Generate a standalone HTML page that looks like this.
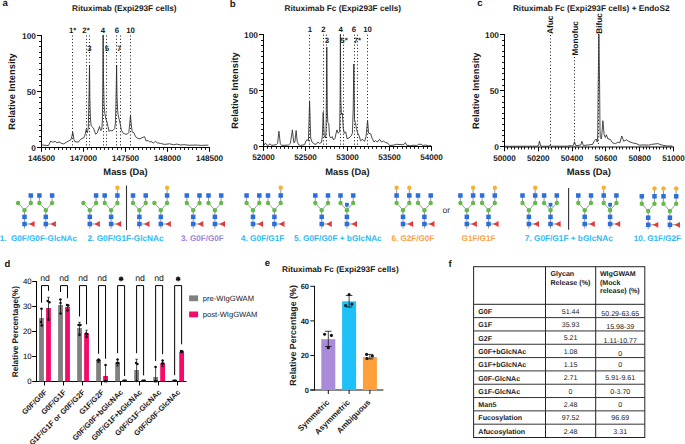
<!DOCTYPE html>
<html><head><meta charset="utf-8"><title>Figure</title>
<style>html,body{margin:0;padding:0;background:#fff;width:685px;height:444px;overflow:hidden}svg{display:block}</style>
</head><body>
<svg width="685" height="444" viewBox="0 0 685 444" text-rendering="geometricPrecision" font-family='"Liberation Sans", sans-serif'>
<rect width="685" height="444" fill="#fff"/>
<text x="2.5" y="6.1" font-size="9.6" font-weight="bold" text-anchor="start" fill="#1a1a1a" >a</text>
<text x="229.8" y="6.8" font-size="9.6" font-weight="bold" text-anchor="start" fill="#1a1a1a" >b</text>
<text x="477.2" y="6.4" font-size="9.6" font-weight="bold" text-anchor="start" fill="#1a1a1a" >c</text>
<text x="4.5" y="267.2" font-size="9.6" font-weight="bold" text-anchor="start" fill="#1a1a1a" >d</text>
<text x="264.8" y="266.4" font-size="9.6" font-weight="bold" text-anchor="start" fill="#1a1a1a" >e</text>
<text x="448.5" y="267" font-size="9.6" font-weight="bold" text-anchor="start" fill="#1a1a1a" >f</text>
<line x1="41.5" y1="35" x2="41.5" y2="148" stroke="#000" stroke-width="1.0" />
<line x1="37" y1="147.5" x2="41.5" y2="147.5" stroke="#000" stroke-width="1.0" />
<line x1="39" y1="141.5" x2="41.5" y2="141.5" stroke="#000" stroke-width="0.9" />
<line x1="39" y1="136.5" x2="41.5" y2="136.5" stroke="#000" stroke-width="0.9" />
<line x1="39" y1="130.5" x2="41.5" y2="130.5" stroke="#000" stroke-width="0.9" />
<line x1="39" y1="125.5" x2="41.5" y2="125.5" stroke="#000" stroke-width="0.9" />
<line x1="39" y1="119.5" x2="41.5" y2="119.5" stroke="#000" stroke-width="0.9" />
<line x1="39" y1="113.5" x2="41.5" y2="113.5" stroke="#000" stroke-width="0.9" />
<line x1="39" y1="108.5" x2="41.5" y2="108.5" stroke="#000" stroke-width="0.9" />
<line x1="39" y1="102.5" x2="41.5" y2="102.5" stroke="#000" stroke-width="0.9" />
<line x1="39" y1="97.5" x2="41.5" y2="97.5" stroke="#000" stroke-width="0.9" />
<line x1="37" y1="91.5" x2="41.5" y2="91.5" stroke="#000" stroke-width="1.0" />
<line x1="39" y1="85.5" x2="41.5" y2="85.5" stroke="#000" stroke-width="0.9" />
<line x1="39" y1="80.5" x2="41.5" y2="80.5" stroke="#000" stroke-width="0.9" />
<line x1="39" y1="74.5" x2="41.5" y2="74.5" stroke="#000" stroke-width="0.9" />
<line x1="39" y1="69.5" x2="41.5" y2="69.5" stroke="#000" stroke-width="0.9" />
<line x1="39" y1="63.5" x2="41.5" y2="63.5" stroke="#000" stroke-width="0.9" />
<line x1="39" y1="57.5" x2="41.5" y2="57.5" stroke="#000" stroke-width="0.9" />
<line x1="39" y1="52.5" x2="41.5" y2="52.5" stroke="#000" stroke-width="0.9" />
<line x1="39" y1="46.5" x2="41.5" y2="46.5" stroke="#000" stroke-width="0.9" />
<line x1="39" y1="41.5" x2="41.5" y2="41.5" stroke="#000" stroke-width="0.9" />
<line x1="37" y1="35.5" x2="41.5" y2="35.5" stroke="#000" stroke-width="1.0" />
<text x="36" y="150.5" font-size="8.4" font-weight="bold" text-anchor="end" fill="#1a1a1a" >0</text>
<text x="36" y="94.5" font-size="8.4" font-weight="bold" text-anchor="end" fill="#1a1a1a" >50</text>
<text x="36" y="38.5" font-size="8.4" font-weight="bold" text-anchor="end" fill="#1a1a1a" >100</text>
<line x1="41" y1="147.5" x2="210" y2="147.5" stroke="#000" stroke-width="1.0" />
<line x1="41.5" y1="147.5" x2="41.5" y2="151.8" stroke="#000" stroke-width="1.0" />
<text x="41.5" y="161.2" font-size="8.15" font-weight="bold" text-anchor="middle" fill="#1a1a1a" >146500</text>
<line x1="45.5" y1="147.5" x2="45.5" y2="149.9" stroke="#000" stroke-width="0.9" />
<line x1="49.5" y1="147.5" x2="49.5" y2="149.9" stroke="#000" stroke-width="0.9" />
<line x1="54.5" y1="147.5" x2="54.5" y2="149.9" stroke="#000" stroke-width="0.9" />
<line x1="58.5" y1="147.5" x2="58.5" y2="149.9" stroke="#000" stroke-width="0.9" />
<line x1="62.5" y1="147.5" x2="62.5" y2="149.9" stroke="#000" stroke-width="0.9" />
<line x1="66.5" y1="147.5" x2="66.5" y2="149.9" stroke="#000" stroke-width="0.9" />
<line x1="70.5" y1="147.5" x2="70.5" y2="149.9" stroke="#000" stroke-width="0.9" />
<line x1="75.5" y1="147.5" x2="75.5" y2="149.9" stroke="#000" stroke-width="0.9" />
<line x1="79.5" y1="147.5" x2="79.5" y2="149.9" stroke="#000" stroke-width="0.9" />
<line x1="83.5" y1="147.5" x2="83.5" y2="151.8" stroke="#000" stroke-width="1.0" />
<text x="83.5" y="161.2" font-size="8.15" font-weight="bold" text-anchor="middle" fill="#1a1a1a" >147000</text>
<line x1="87.5" y1="147.5" x2="87.5" y2="149.9" stroke="#000" stroke-width="0.9" />
<line x1="91.5" y1="147.5" x2="91.5" y2="149.9" stroke="#000" stroke-width="0.9" />
<line x1="96.5" y1="147.5" x2="96.5" y2="149.9" stroke="#000" stroke-width="0.9" />
<line x1="100.5" y1="147.5" x2="100.5" y2="149.9" stroke="#000" stroke-width="0.9" />
<line x1="104.5" y1="147.5" x2="104.5" y2="149.9" stroke="#000" stroke-width="0.9" />
<line x1="108.5" y1="147.5" x2="108.5" y2="149.9" stroke="#000" stroke-width="0.9" />
<line x1="112.5" y1="147.5" x2="112.5" y2="149.9" stroke="#000" stroke-width="0.9" />
<line x1="117.5" y1="147.5" x2="117.5" y2="149.9" stroke="#000" stroke-width="0.9" />
<line x1="121.5" y1="147.5" x2="121.5" y2="149.9" stroke="#000" stroke-width="0.9" />
<line x1="125.5" y1="147.5" x2="125.5" y2="151.8" stroke="#000" stroke-width="1.0" />
<text x="125.5" y="161.2" font-size="8.15" font-weight="bold" text-anchor="middle" fill="#1a1a1a" >147500</text>
<line x1="129.5" y1="147.5" x2="129.5" y2="149.9" stroke="#000" stroke-width="0.9" />
<line x1="133.5" y1="147.5" x2="133.5" y2="149.9" stroke="#000" stroke-width="0.9" />
<line x1="138.5" y1="147.5" x2="138.5" y2="149.9" stroke="#000" stroke-width="0.9" />
<line x1="142.5" y1="147.5" x2="142.5" y2="149.9" stroke="#000" stroke-width="0.9" />
<line x1="146.5" y1="147.5" x2="146.5" y2="149.9" stroke="#000" stroke-width="0.9" />
<line x1="150.5" y1="147.5" x2="150.5" y2="149.9" stroke="#000" stroke-width="0.9" />
<line x1="154.5" y1="147.5" x2="154.5" y2="149.9" stroke="#000" stroke-width="0.9" />
<line x1="159.5" y1="147.5" x2="159.5" y2="149.9" stroke="#000" stroke-width="0.9" />
<line x1="163.5" y1="147.5" x2="163.5" y2="149.9" stroke="#000" stroke-width="0.9" />
<line x1="167.5" y1="147.5" x2="167.5" y2="151.8" stroke="#000" stroke-width="1.0" />
<text x="167.5" y="161.2" font-size="8.15" font-weight="bold" text-anchor="middle" fill="#1a1a1a" >148000</text>
<line x1="171.5" y1="147.5" x2="171.5" y2="149.9" stroke="#000" stroke-width="0.9" />
<line x1="175.5" y1="147.5" x2="175.5" y2="149.9" stroke="#000" stroke-width="0.9" />
<line x1="180.5" y1="147.5" x2="180.5" y2="149.9" stroke="#000" stroke-width="0.9" />
<line x1="184.5" y1="147.5" x2="184.5" y2="149.9" stroke="#000" stroke-width="0.9" />
<line x1="188.5" y1="147.5" x2="188.5" y2="149.9" stroke="#000" stroke-width="0.9" />
<line x1="192.5" y1="147.5" x2="192.5" y2="149.9" stroke="#000" stroke-width="0.9" />
<line x1="196.5" y1="147.5" x2="196.5" y2="149.9" stroke="#000" stroke-width="0.9" />
<line x1="201.5" y1="147.5" x2="201.5" y2="149.9" stroke="#000" stroke-width="0.9" />
<line x1="205.5" y1="147.5" x2="205.5" y2="149.9" stroke="#000" stroke-width="0.9" />
<line x1="209.5" y1="147.5" x2="209.5" y2="151.8" stroke="#000" stroke-width="1.0" />
<text x="209.5" y="161.2" font-size="8.15" font-weight="bold" text-anchor="middle" fill="#1a1a1a" >148500</text>
<text transform="translate(15.4,91.5) rotate(-90)" font-size="9.3" font-weight="bold" text-anchor="middle" fill="#1a1a1a">Relative Intensity</text>
<text x="125.5" y="174.5" font-size="9.4" font-weight="bold" text-anchor="middle" fill="#1a1a1a" >Mass (Da)</text>
<text x="124.3" y="10.6" font-size="8.25" font-weight="bold" text-anchor="middle" fill="#1a1a1a" >Rituximab (Expi293F cells)</text>
<line x1="72.5" y1="35.5" x2="72.5" y2="147" stroke="#111" stroke-width="1.0" stroke-dasharray="1 2.3"/>
<line x1="86.5" y1="35.5" x2="86.5" y2="147" stroke="#111" stroke-width="1.0" stroke-dasharray="1 2.3"/>
<line x1="89.5" y1="35.5" x2="89.5" y2="147" stroke="#111" stroke-width="1.0" stroke-dasharray="1 2.3"/>
<line x1="103.5" y1="35.5" x2="103.5" y2="147" stroke="#111" stroke-width="1.0" stroke-dasharray="1 2.3"/>
<line x1="106.5" y1="35.5" x2="106.5" y2="147" stroke="#111" stroke-width="1.0" stroke-dasharray="1 2.3"/>
<line x1="116.5" y1="35.5" x2="116.5" y2="147" stroke="#111" stroke-width="1.0" stroke-dasharray="1 2.3"/>
<line x1="120.5" y1="35.5" x2="120.5" y2="147" stroke="#111" stroke-width="1.0" stroke-dasharray="1 2.3"/>
<line x1="130.5" y1="35.5" x2="130.5" y2="147" stroke="#111" stroke-width="1.0" stroke-dasharray="1 2.3"/>
<polyline points="41.5,145.2 42.3,145 48.4,145.6 50.7,141.1 52.4,142.2 55.2,141.4 56.9,142.8 59.1,141.9 61.4,143.4 63.6,143.9 67,141.9 71,139.6 72.2,135 72.7,132.1 73.3,135 73.9,139.6 74.9,141.7 78.3,142.2 80.5,139.4 83.9,137.7 85,134.9 86.2,129.3 87.3,132.7 88.3,128 89.1,90 89.5,65 89.9,100 90.5,120 91.2,125.9 93.5,128.2 95.7,134.3 97.3,132.7 99.5,126.5 100.6,130.4 101.8,129.8 102.4,120 102.8,80 103.1,35 103.4,75 104.1,105 104.6,111.3 105.7,118.6 106.8,121.4 108,126.5 109.1,131.5 110.2,130.2 111.9,131 113.6,129.8 114.7,128.7 115.5,122 116.2,90 116.6,65 117,95 117.6,110 118.1,114.6 119.8,122 121.5,130.4 123.2,133.2 124.8,133.8 126,134.3 127.7,133.8 128.8,132.7 129.9,122 130.5,115.2 131.1,123 132.2,132.1 133.9,132.7 135.5,136.6 137.8,138.3 140,138.9 142,137.7 144.6,136.7 146.1,141 148.2,140.5 149.7,142 151.2,141.6 153.3,143.1 155.3,141.4 157.4,142.8 160.4,143.4 164.5,144.4 169.6,143.8 173.7,144.8 176.8,144.1 180.9,145.1 183.9,144.6 188,145.2 197.2,145.1 201.3,145.4 208.4,145.1" fill="none" stroke="#2a2a2a" stroke-width="0.85" stroke-linejoin="round"/>
<text x="72.6" y="32.9" font-size="7.8" font-weight="bold" text-anchor="middle" fill="#1a1a1a" >1*</text>
<text x="86" y="32.9" font-size="7.8" font-weight="bold" text-anchor="middle" fill="#1a1a1a" >2*</text>
<text x="103" y="32.9" font-size="7.8" font-weight="bold" text-anchor="middle" fill="#1a1a1a" >4</text>
<text x="117" y="32.9" font-size="7.8" font-weight="bold" text-anchor="middle" fill="#1a1a1a" >6</text>
<text x="130.5" y="32.9" font-size="7.8" font-weight="bold" text-anchor="middle" fill="#1a1a1a" >10</text>
<text x="89.5" y="50.5" font-size="7.8" font-weight="bold" text-anchor="middle" fill="#1a1a1a" >3</text>
<text x="107" y="50.5" font-size="7.8" font-weight="bold" text-anchor="middle" fill="#1a1a1a" >5</text>
<text x="119.2" y="50.5" font-size="7.8" font-weight="bold" text-anchor="middle" fill="#1a1a1a" >7</text>
<line x1="263.5" y1="34" x2="263.5" y2="147" stroke="#000" stroke-width="1.0" />
<line x1="259" y1="146.5" x2="263.5" y2="146.5" stroke="#000" stroke-width="1.0" />
<line x1="261" y1="140.5" x2="263.5" y2="140.5" stroke="#000" stroke-width="0.9" />
<line x1="261" y1="135.5" x2="263.5" y2="135.5" stroke="#000" stroke-width="0.9" />
<line x1="261" y1="129.5" x2="263.5" y2="129.5" stroke="#000" stroke-width="0.9" />
<line x1="261" y1="124.5" x2="263.5" y2="124.5" stroke="#000" stroke-width="0.9" />
<line x1="261" y1="118.5" x2="263.5" y2="118.5" stroke="#000" stroke-width="0.9" />
<line x1="261" y1="112.5" x2="263.5" y2="112.5" stroke="#000" stroke-width="0.9" />
<line x1="261" y1="107.5" x2="263.5" y2="107.5" stroke="#000" stroke-width="0.9" />
<line x1="261" y1="101.5" x2="263.5" y2="101.5" stroke="#000" stroke-width="0.9" />
<line x1="261" y1="96.5" x2="263.5" y2="96.5" stroke="#000" stroke-width="0.9" />
<line x1="259" y1="90.5" x2="263.5" y2="90.5" stroke="#000" stroke-width="1.0" />
<line x1="261" y1="84.5" x2="263.5" y2="84.5" stroke="#000" stroke-width="0.9" />
<line x1="261" y1="79.5" x2="263.5" y2="79.5" stroke="#000" stroke-width="0.9" />
<line x1="261" y1="73.5" x2="263.5" y2="73.5" stroke="#000" stroke-width="0.9" />
<line x1="261" y1="68.5" x2="263.5" y2="68.5" stroke="#000" stroke-width="0.9" />
<line x1="261" y1="62.5" x2="263.5" y2="62.5" stroke="#000" stroke-width="0.9" />
<line x1="261" y1="56.5" x2="263.5" y2="56.5" stroke="#000" stroke-width="0.9" />
<line x1="261" y1="51.5" x2="263.5" y2="51.5" stroke="#000" stroke-width="0.9" />
<line x1="261" y1="45.5" x2="263.5" y2="45.5" stroke="#000" stroke-width="0.9" />
<line x1="261" y1="40.5" x2="263.5" y2="40.5" stroke="#000" stroke-width="0.9" />
<line x1="259" y1="34.5" x2="263.5" y2="34.5" stroke="#000" stroke-width="1.0" />
<text x="258" y="149.5" font-size="8.4" font-weight="bold" text-anchor="end" fill="#1a1a1a" >0</text>
<text x="258" y="93.5" font-size="8.4" font-weight="bold" text-anchor="end" fill="#1a1a1a" >50</text>
<text x="258" y="37.5" font-size="8.4" font-weight="bold" text-anchor="end" fill="#1a1a1a" >100</text>
<line x1="263" y1="146.5" x2="432" y2="146.5" stroke="#000" stroke-width="1.0" />
<line x1="263.5" y1="146.5" x2="263.5" y2="150.8" stroke="#000" stroke-width="1.0" />
<text x="263.5" y="160.2" font-size="8.15" font-weight="bold" text-anchor="middle" fill="#1a1a1a" >52000</text>
<line x1="267.5" y1="146.5" x2="267.5" y2="148.9" stroke="#000" stroke-width="0.9" />
<line x1="271.5" y1="146.5" x2="271.5" y2="148.9" stroke="#000" stroke-width="0.9" />
<line x1="276.5" y1="146.5" x2="276.5" y2="148.9" stroke="#000" stroke-width="0.9" />
<line x1="280.5" y1="146.5" x2="280.5" y2="148.9" stroke="#000" stroke-width="0.9" />
<line x1="284.5" y1="146.5" x2="284.5" y2="148.9" stroke="#000" stroke-width="0.9" />
<line x1="288.5" y1="146.5" x2="288.5" y2="148.9" stroke="#000" stroke-width="0.9" />
<line x1="292.5" y1="146.5" x2="292.5" y2="148.9" stroke="#000" stroke-width="0.9" />
<line x1="297.5" y1="146.5" x2="297.5" y2="148.9" stroke="#000" stroke-width="0.9" />
<line x1="301.5" y1="146.5" x2="301.5" y2="148.9" stroke="#000" stroke-width="0.9" />
<line x1="305.5" y1="146.5" x2="305.5" y2="150.8" stroke="#000" stroke-width="1.0" />
<text x="305.5" y="160.2" font-size="8.15" font-weight="bold" text-anchor="middle" fill="#1a1a1a" >52500</text>
<line x1="309.5" y1="146.5" x2="309.5" y2="148.9" stroke="#000" stroke-width="0.9" />
<line x1="313.5" y1="146.5" x2="313.5" y2="148.9" stroke="#000" stroke-width="0.9" />
<line x1="318.5" y1="146.5" x2="318.5" y2="148.9" stroke="#000" stroke-width="0.9" />
<line x1="322.5" y1="146.5" x2="322.5" y2="148.9" stroke="#000" stroke-width="0.9" />
<line x1="326.5" y1="146.5" x2="326.5" y2="148.9" stroke="#000" stroke-width="0.9" />
<line x1="330.5" y1="146.5" x2="330.5" y2="148.9" stroke="#000" stroke-width="0.9" />
<line x1="334.5" y1="146.5" x2="334.5" y2="148.9" stroke="#000" stroke-width="0.9" />
<line x1="339.5" y1="146.5" x2="339.5" y2="148.9" stroke="#000" stroke-width="0.9" />
<line x1="343.5" y1="146.5" x2="343.5" y2="148.9" stroke="#000" stroke-width="0.9" />
<line x1="347.5" y1="146.5" x2="347.5" y2="150.8" stroke="#000" stroke-width="1.0" />
<text x="347.5" y="160.2" font-size="8.15" font-weight="bold" text-anchor="middle" fill="#1a1a1a" >53000</text>
<line x1="351.5" y1="146.5" x2="351.5" y2="148.9" stroke="#000" stroke-width="0.9" />
<line x1="355.5" y1="146.5" x2="355.5" y2="148.9" stroke="#000" stroke-width="0.9" />
<line x1="360.5" y1="146.5" x2="360.5" y2="148.9" stroke="#000" stroke-width="0.9" />
<line x1="364.5" y1="146.5" x2="364.5" y2="148.9" stroke="#000" stroke-width="0.9" />
<line x1="368.5" y1="146.5" x2="368.5" y2="148.9" stroke="#000" stroke-width="0.9" />
<line x1="372.5" y1="146.5" x2="372.5" y2="148.9" stroke="#000" stroke-width="0.9" />
<line x1="376.5" y1="146.5" x2="376.5" y2="148.9" stroke="#000" stroke-width="0.9" />
<line x1="381.5" y1="146.5" x2="381.5" y2="148.9" stroke="#000" stroke-width="0.9" />
<line x1="385.5" y1="146.5" x2="385.5" y2="148.9" stroke="#000" stroke-width="0.9" />
<line x1="389.5" y1="146.5" x2="389.5" y2="150.8" stroke="#000" stroke-width="1.0" />
<text x="389.5" y="160.2" font-size="8.15" font-weight="bold" text-anchor="middle" fill="#1a1a1a" >53500</text>
<line x1="393.5" y1="146.5" x2="393.5" y2="148.9" stroke="#000" stroke-width="0.9" />
<line x1="397.5" y1="146.5" x2="397.5" y2="148.9" stroke="#000" stroke-width="0.9" />
<line x1="402.5" y1="146.5" x2="402.5" y2="148.9" stroke="#000" stroke-width="0.9" />
<line x1="406.5" y1="146.5" x2="406.5" y2="148.9" stroke="#000" stroke-width="0.9" />
<line x1="410.5" y1="146.5" x2="410.5" y2="148.9" stroke="#000" stroke-width="0.9" />
<line x1="414.5" y1="146.5" x2="414.5" y2="148.9" stroke="#000" stroke-width="0.9" />
<line x1="418.5" y1="146.5" x2="418.5" y2="148.9" stroke="#000" stroke-width="0.9" />
<line x1="423.5" y1="146.5" x2="423.5" y2="148.9" stroke="#000" stroke-width="0.9" />
<line x1="427.5" y1="146.5" x2="427.5" y2="148.9" stroke="#000" stroke-width="0.9" />
<line x1="431.5" y1="146.5" x2="431.5" y2="150.8" stroke="#000" stroke-width="1.0" />
<text x="431.5" y="160.2" font-size="8.15" font-weight="bold" text-anchor="middle" fill="#1a1a1a" >54000</text>
<text transform="translate(237.9,90.5) rotate(-90)" font-size="9.3" font-weight="bold" text-anchor="middle" fill="#1a1a1a">Relative Intensity</text>
<text x="347.4" y="174.5" font-size="9.4" font-weight="bold" text-anchor="middle" fill="#1a1a1a" >Mass (Da)</text>
<text x="342.8" y="10.6" font-size="8.25" font-weight="bold" text-anchor="middle" fill="#1a1a1a" >Rituximab Fc (Expi293F cells)</text>
<line x1="309.5" y1="34.7" x2="309.5" y2="146" stroke="#111" stroke-width="1.0" stroke-dasharray="1 2.3"/>
<line x1="323.5" y1="34.7" x2="323.5" y2="146" stroke="#111" stroke-width="1.0" stroke-dasharray="1 2.3"/>
<line x1="326.5" y1="34.7" x2="326.5" y2="146" stroke="#111" stroke-width="1.0" stroke-dasharray="1 2.3"/>
<line x1="340.5" y1="34.7" x2="340.5" y2="146" stroke="#111" stroke-width="1.0" stroke-dasharray="1 2.3"/>
<line x1="343.5" y1="34.7" x2="343.5" y2="146" stroke="#111" stroke-width="1.0" stroke-dasharray="1 2.3"/>
<line x1="354.5" y1="34.7" x2="354.5" y2="146" stroke="#111" stroke-width="1.0" stroke-dasharray="1 2.3"/>
<line x1="357.5" y1="34.7" x2="357.5" y2="146" stroke="#111" stroke-width="1.0" stroke-dasharray="1 2.3"/>
<line x1="367.5" y1="34.7" x2="367.5" y2="146" stroke="#111" stroke-width="1.0" stroke-dasharray="1 2.3"/>
<polyline points="263.5,145.5 264,145.4 265.4,143 266.8,145.1 268.1,145.4 270.1,143.8 271.5,145.4 276.2,144.7 277.6,143.4 278.9,131.2 280.3,143.4 281.6,145.4 288.4,145.1 290.4,143.4 292.4,129.9 293.8,142.7 294.9,142 296.1,130.5 297.2,141.4 298.5,144.7 300.5,145.4 304.6,144.7 306,140.7 307.3,139.7 308.4,141.1 309.6,101.5 310.7,138 312,142 314.1,144 316.1,144.3 318.1,142 319.5,143.4 321.5,142.4 322.4,135.3 323.2,112.3 324.2,136 325.5,138 326.1,130 326.8,47 327.3,110 327.8,122.4 328.8,123.8 329.5,136 330.8,138 332.2,136.6 333.5,140 334.9,138.6 336.9,129.9 338.2,133.2 339.6,131.9 340.1,100 340.4,34.2 340.8,100 341.4,114.3 342.3,113 343.2,127.8 344.3,133.2 345.7,131.9 347,138.6 349,138 351.1,136 352.4,133.2 353.2,110 353.8,64 354.3,100 354.5,119.7 355.4,122.4 356.5,129.2 357.8,133.2 359.2,136 360.5,140.7 362.6,139.3 364.6,141.4 366,136.6 367.6,120.4 368.6,133.2 370.7,133.9 372,138 374,142 375.4,140.7 377.4,142 379.5,139.3 381.5,142 383.5,141.1 385.7,142.6 387.9,143.2 389.6,145.5 393.1,145.2 396.6,144.3 401,144.6 403.6,144.8 405.4,142.6 406.7,145.2 410.6,145.8 413.7,145.2 416.8,145.6 418.5,144.3 421.2,144.3 422.9,145.5 425.5,145 428.2,145.8 431.2,145.5" fill="none" stroke="#2a2a2a" stroke-width="0.85" stroke-linejoin="round"/>
<text x="309.8" y="32.4" font-size="7.8" font-weight="bold" text-anchor="middle" fill="#1a1a1a" >1</text>
<text x="323.4" y="32.4" font-size="7.8" font-weight="bold" text-anchor="middle" fill="#1a1a1a" >2</text>
<text x="340.7" y="32.4" font-size="7.8" font-weight="bold" text-anchor="middle" fill="#1a1a1a" >4</text>
<text x="354" y="32.4" font-size="7.8" font-weight="bold" text-anchor="middle" fill="#1a1a1a" >6</text>
<text x="367.6" y="32.4" font-size="7.8" font-weight="bold" text-anchor="middle" fill="#1a1a1a" >10</text>
<text x="327" y="43.4" font-size="7.8" font-weight="bold" text-anchor="middle" fill="#1a1a1a" >3</text>
<text x="344" y="43.4" font-size="7.8" font-weight="bold" text-anchor="middle" fill="#1a1a1a" >5*</text>
<text x="357.4" y="43.4" font-size="7.8" font-weight="bold" text-anchor="middle" fill="#1a1a1a" >7*</text>
<line x1="504.5" y1="34" x2="504.5" y2="147.5" stroke="#000" stroke-width="1.0" />
<line x1="500" y1="146.5" x2="504.5" y2="146.5" stroke="#000" stroke-width="1.0" />
<line x1="502" y1="141.5" x2="504.5" y2="141.5" stroke="#000" stroke-width="0.9" />
<line x1="502" y1="135.5" x2="504.5" y2="135.5" stroke="#000" stroke-width="0.9" />
<line x1="502" y1="130.5" x2="504.5" y2="130.5" stroke="#000" stroke-width="0.9" />
<line x1="502" y1="124.5" x2="504.5" y2="124.5" stroke="#000" stroke-width="0.9" />
<line x1="502" y1="118.5" x2="504.5" y2="118.5" stroke="#000" stroke-width="0.9" />
<line x1="502" y1="113.5" x2="504.5" y2="113.5" stroke="#000" stroke-width="0.9" />
<line x1="502" y1="107.5" x2="504.5" y2="107.5" stroke="#000" stroke-width="0.9" />
<line x1="502" y1="102.5" x2="504.5" y2="102.5" stroke="#000" stroke-width="0.9" />
<line x1="502" y1="96.5" x2="504.5" y2="96.5" stroke="#000" stroke-width="0.9" />
<line x1="500" y1="90.5" x2="504.5" y2="90.5" stroke="#000" stroke-width="1.0" />
<line x1="502" y1="85.5" x2="504.5" y2="85.5" stroke="#000" stroke-width="0.9" />
<line x1="502" y1="79.5" x2="504.5" y2="79.5" stroke="#000" stroke-width="0.9" />
<line x1="502" y1="73.5" x2="504.5" y2="73.5" stroke="#000" stroke-width="0.9" />
<line x1="502" y1="68.5" x2="504.5" y2="68.5" stroke="#000" stroke-width="0.9" />
<line x1="502" y1="62.5" x2="504.5" y2="62.5" stroke="#000" stroke-width="0.9" />
<line x1="502" y1="56.5" x2="504.5" y2="56.5" stroke="#000" stroke-width="0.9" />
<line x1="502" y1="51.5" x2="504.5" y2="51.5" stroke="#000" stroke-width="0.9" />
<line x1="502" y1="45.5" x2="504.5" y2="45.5" stroke="#000" stroke-width="0.9" />
<line x1="502" y1="40.5" x2="504.5" y2="40.5" stroke="#000" stroke-width="0.9" />
<line x1="500" y1="34.5" x2="504.5" y2="34.5" stroke="#000" stroke-width="1.0" />
<text x="499" y="150" font-size="8.4" font-weight="bold" text-anchor="end" fill="#1a1a1a" >0</text>
<text x="499" y="93.75" font-size="8.4" font-weight="bold" text-anchor="end" fill="#1a1a1a" >50</text>
<text x="499" y="37.5" font-size="8.4" font-weight="bold" text-anchor="end" fill="#1a1a1a" >100</text>
<line x1="504" y1="147" x2="674" y2="147" stroke="#000" stroke-width="1.0" />
<line x1="504.5" y1="147" x2="504.5" y2="151.3" stroke="#000" stroke-width="1.0" />
<text x="504.5" y="160.7" font-size="8.15" font-weight="bold" text-anchor="middle" fill="#1a1a1a" >50000</text>
<line x1="507.5" y1="147" x2="507.5" y2="149.4" stroke="#000" stroke-width="0.9" />
<line x1="511.5" y1="147" x2="511.5" y2="149.4" stroke="#000" stroke-width="0.9" />
<line x1="514.5" y1="147" x2="514.5" y2="149.4" stroke="#000" stroke-width="0.9" />
<line x1="518.5" y1="147" x2="518.5" y2="149.4" stroke="#000" stroke-width="0.9" />
<line x1="521.5" y1="147" x2="521.5" y2="149.4" stroke="#000" stroke-width="0.9" />
<line x1="524.5" y1="147" x2="524.5" y2="149.4" stroke="#000" stroke-width="0.9" />
<line x1="528.5" y1="147" x2="528.5" y2="149.4" stroke="#000" stroke-width="0.9" />
<line x1="531.5" y1="147" x2="531.5" y2="149.4" stroke="#000" stroke-width="0.9" />
<line x1="534.5" y1="147" x2="534.5" y2="149.4" stroke="#000" stroke-width="0.9" />
<line x1="538.5" y1="147" x2="538.5" y2="151.3" stroke="#000" stroke-width="1.0" />
<text x="538.3" y="160.7" font-size="8.15" font-weight="bold" text-anchor="middle" fill="#1a1a1a" >50200</text>
<line x1="541.5" y1="147" x2="541.5" y2="149.4" stroke="#000" stroke-width="0.9" />
<line x1="545.5" y1="147" x2="545.5" y2="149.4" stroke="#000" stroke-width="0.9" />
<line x1="548.5" y1="147" x2="548.5" y2="149.4" stroke="#000" stroke-width="0.9" />
<line x1="551.5" y1="147" x2="551.5" y2="149.4" stroke="#000" stroke-width="0.9" />
<line x1="555.5" y1="147" x2="555.5" y2="149.4" stroke="#000" stroke-width="0.9" />
<line x1="558.5" y1="147" x2="558.5" y2="149.4" stroke="#000" stroke-width="0.9" />
<line x1="561.5" y1="147" x2="561.5" y2="149.4" stroke="#000" stroke-width="0.9" />
<line x1="565.5" y1="147" x2="565.5" y2="149.4" stroke="#000" stroke-width="0.9" />
<line x1="568.5" y1="147" x2="568.5" y2="149.4" stroke="#000" stroke-width="0.9" />
<line x1="572.5" y1="147" x2="572.5" y2="151.3" stroke="#000" stroke-width="1.0" />
<text x="572.1" y="160.7" font-size="8.15" font-weight="bold" text-anchor="middle" fill="#1a1a1a" >50400</text>
<line x1="575.5" y1="147" x2="575.5" y2="149.4" stroke="#000" stroke-width="0.9" />
<line x1="578.5" y1="147" x2="578.5" y2="149.4" stroke="#000" stroke-width="0.9" />
<line x1="582.5" y1="147" x2="582.5" y2="149.4" stroke="#000" stroke-width="0.9" />
<line x1="585.5" y1="147" x2="585.5" y2="149.4" stroke="#000" stroke-width="0.9" />
<line x1="588.5" y1="147" x2="588.5" y2="149.4" stroke="#000" stroke-width="0.9" />
<line x1="592.5" y1="147" x2="592.5" y2="149.4" stroke="#000" stroke-width="0.9" />
<line x1="595.5" y1="147" x2="595.5" y2="149.4" stroke="#000" stroke-width="0.9" />
<line x1="599.5" y1="147" x2="599.5" y2="149.4" stroke="#000" stroke-width="0.9" />
<line x1="602.5" y1="147" x2="602.5" y2="149.4" stroke="#000" stroke-width="0.9" />
<line x1="605.5" y1="147" x2="605.5" y2="151.3" stroke="#000" stroke-width="1.0" />
<text x="605.9" y="160.7" font-size="8.15" font-weight="bold" text-anchor="middle" fill="#1a1a1a" >50600</text>
<line x1="609.5" y1="147" x2="609.5" y2="149.4" stroke="#000" stroke-width="0.9" />
<line x1="612.5" y1="147" x2="612.5" y2="149.4" stroke="#000" stroke-width="0.9" />
<line x1="616.5" y1="147" x2="616.5" y2="149.4" stroke="#000" stroke-width="0.9" />
<line x1="619.5" y1="147" x2="619.5" y2="149.4" stroke="#000" stroke-width="0.9" />
<line x1="622.5" y1="147" x2="622.5" y2="149.4" stroke="#000" stroke-width="0.9" />
<line x1="626.5" y1="147" x2="626.5" y2="149.4" stroke="#000" stroke-width="0.9" />
<line x1="629.5" y1="147" x2="629.5" y2="149.4" stroke="#000" stroke-width="0.9" />
<line x1="632.5" y1="147" x2="632.5" y2="149.4" stroke="#000" stroke-width="0.9" />
<line x1="636.5" y1="147" x2="636.5" y2="149.4" stroke="#000" stroke-width="0.9" />
<line x1="639.5" y1="147" x2="639.5" y2="151.3" stroke="#000" stroke-width="1.0" />
<text x="639.7" y="160.7" font-size="8.15" font-weight="bold" text-anchor="middle" fill="#1a1a1a" >50800</text>
<line x1="643.5" y1="147" x2="643.5" y2="149.4" stroke="#000" stroke-width="0.9" />
<line x1="646.5" y1="147" x2="646.5" y2="149.4" stroke="#000" stroke-width="0.9" />
<line x1="649.5" y1="147" x2="649.5" y2="149.4" stroke="#000" stroke-width="0.9" />
<line x1="653.5" y1="147" x2="653.5" y2="149.4" stroke="#000" stroke-width="0.9" />
<line x1="656.5" y1="147" x2="656.5" y2="149.4" stroke="#000" stroke-width="0.9" />
<line x1="659.5" y1="147" x2="659.5" y2="149.4" stroke="#000" stroke-width="0.9" />
<line x1="663.5" y1="147" x2="663.5" y2="149.4" stroke="#000" stroke-width="0.9" />
<line x1="666.5" y1="147" x2="666.5" y2="149.4" stroke="#000" stroke-width="0.9" />
<line x1="670.5" y1="147" x2="670.5" y2="149.4" stroke="#000" stroke-width="0.9" />
<line x1="673.5" y1="147" x2="673.5" y2="151.3" stroke="#000" stroke-width="1.0" />
<text x="673.5" y="160.7" font-size="8.15" font-weight="bold" text-anchor="middle" fill="#1a1a1a" >51000</text>
<text transform="translate(479.1,90.75) rotate(-90)" font-size="9.3" font-weight="bold" text-anchor="middle" fill="#1a1a1a">Relative Intensity</text>
<text x="588.8" y="174.5" font-size="9.4" font-weight="bold" text-anchor="middle" fill="#1a1a1a" >Mass (Da)</text>
<text x="591.2" y="10.6" font-size="8.25" font-weight="bold" text-anchor="middle" fill="#1a1a1a" >Rituximab Fc (Expi293F cells) + EndoS2</text>
<line x1="550.5" y1="35" x2="550.5" y2="146.5" stroke="#111" stroke-width="1.0" stroke-dasharray="1 2.3"/>
<line x1="574.5" y1="57" x2="574.5" y2="146.5" stroke="#111" stroke-width="1.0" stroke-dasharray="1 2.3"/>
<line x1="598.5" y1="34" x2="598.5" y2="146.5" stroke="#111" stroke-width="1.0" stroke-dasharray="1 2.3"/>
<polyline points="504.5,146.3 537,146.2 538.5,145.5 539.5,141.1 540.5,145.5 542,146.3 549,146.2 550.2,145 551.5,146.2 568,146.2 570,145.5 572,146.2 573.3,145.6 574.5,141.8 575.7,145.5 578.1,145.5 580.8,145 581.9,141.3 583.4,145.5 588.8,144.9 592.6,144.4 594.6,140.6 596.2,139 597.2,142.1 597.7,136 598.2,85 598.9,34.5 599.6,85 600,130 600.3,137.5 601.4,139 602.2,130 602.9,120.7 603.5,128 604.1,134.5 605.3,137.5 606.4,134.8 608,139 610.3,139.4 612.6,142.9 615.6,143.6 617.9,142.1 619.8,142.9 621.8,136 623.7,141.3 626.3,139.8 628.6,141.3 632.5,142.9 636.3,143.6 639.4,145.2 644,144.9 648.6,145.2 651.6,144.4 657.8,143.6 662.4,145.2 667,146 672.3,146" fill="none" stroke="#2a2a2a" stroke-width="0.85" stroke-linejoin="round"/>
<text transform="translate(553.4,34) rotate(-90)" font-size="8.3" font-weight="bold" fill="#1a1a1a">Afuc</text>
<text transform="translate(577.6,55.6) rotate(-90)" font-size="8.3" font-weight="bold" fill="#1a1a1a">Monofuc</text>
<text transform="translate(601.9,33.8) rotate(-90)" font-size="8.3" font-weight="bold" fill="#1a1a1a">Bifuc</text>
<line x1="24.5" y1="228.6" x2="24.5" y2="224" stroke="#707070" stroke-width="0.7" />
<line x1="24.5" y1="224" x2="24.5" y2="210.2" stroke="#707070" stroke-width="0.7" />
<line x1="24.5" y1="210.2" x2="18.1" y2="203" stroke="#707070" stroke-width="0.7" />
<line x1="24.5" y1="210.2" x2="30.8" y2="203" stroke="#707070" stroke-width="0.7" />
<line x1="24.5" y1="224" x2="32" y2="224" stroke="#707070" stroke-width="0.7" />
<line x1="30.8" y1="203" x2="30.8" y2="195.5" stroke="#707070" stroke-width="0.7" />
<polygon points="29.1,224 34.6,221.1 34.6,226.9" fill="#e23a3a"/>
<rect x="22.25" y="221.75" width="4.5" height="4.5" fill="#2a6fdb"/>
<rect x="22.25" y="214.65" width="4.5" height="4.5" fill="#2a6fdb"/>
<circle cx="24.5" cy="210.2" r="2.2" fill="#62bb46"/>
<circle cx="18.1" cy="203" r="2.2" fill="#62bb46"/>
<circle cx="30.8" cy="203" r="2.2" fill="#62bb46"/>
<rect x="28.55" y="193.25" width="4.5" height="4.5" fill="#2a6fdb"/>
<line x1="45.8" y1="228.6" x2="45.8" y2="224" stroke="#707070" stroke-width="0.7" />
<line x1="45.8" y1="224" x2="45.8" y2="210.2" stroke="#707070" stroke-width="0.7" />
<line x1="45.8" y1="210.2" x2="39.4" y2="203" stroke="#707070" stroke-width="0.7" />
<line x1="45.8" y1="210.2" x2="52.1" y2="203" stroke="#707070" stroke-width="0.7" />
<line x1="45.8" y1="224" x2="53.3" y2="224" stroke="#707070" stroke-width="0.7" />
<line x1="39.4" y1="203" x2="39.4" y2="195.5" stroke="#707070" stroke-width="0.7" />
<line x1="52.1" y1="203" x2="52.1" y2="195.5" stroke="#707070" stroke-width="0.7" />
<polygon points="50.4,224 55.9,221.1 55.9,226.9" fill="#e23a3a"/>
<rect x="43.55" y="221.75" width="4.5" height="4.5" fill="#2a6fdb"/>
<rect x="43.55" y="214.65" width="4.5" height="4.5" fill="#2a6fdb"/>
<circle cx="45.8" cy="210.2" r="2.2" fill="#62bb46"/>
<circle cx="39.4" cy="203" r="2.2" fill="#62bb46"/>
<circle cx="52.1" cy="203" r="2.2" fill="#62bb46"/>
<rect x="37.15" y="193.25" width="4.5" height="4.5" fill="#2a6fdb"/>
<rect x="49.85" y="193.25" width="4.5" height="4.5" fill="#2a6fdb"/>
<line x1="89.8" y1="228.6" x2="89.8" y2="224" stroke="#707070" stroke-width="0.7" />
<line x1="89.8" y1="224" x2="89.8" y2="210.2" stroke="#707070" stroke-width="0.7" />
<line x1="89.8" y1="210.2" x2="83.4" y2="203" stroke="#707070" stroke-width="0.7" />
<line x1="89.8" y1="210.2" x2="96.1" y2="203" stroke="#707070" stroke-width="0.7" />
<line x1="89.8" y1="224" x2="97.3" y2="224" stroke="#707070" stroke-width="0.7" />
<line x1="96.1" y1="203" x2="96.1" y2="195.5" stroke="#707070" stroke-width="0.7" />
<polygon points="94.4,224 99.9,221.1 99.9,226.9" fill="#e23a3a"/>
<rect x="87.55" y="221.75" width="4.5" height="4.5" fill="#2a6fdb"/>
<rect x="87.55" y="214.65" width="4.5" height="4.5" fill="#2a6fdb"/>
<circle cx="89.8" cy="210.2" r="2.2" fill="#62bb46"/>
<circle cx="83.4" cy="203" r="2.2" fill="#62bb46"/>
<circle cx="96.1" cy="203" r="2.2" fill="#62bb46"/>
<rect x="93.85" y="193.25" width="4.5" height="4.5" fill="#2a6fdb"/>
<line x1="111.1" y1="228.6" x2="111.1" y2="224" stroke="#707070" stroke-width="0.7" />
<line x1="111.1" y1="224" x2="111.1" y2="210.2" stroke="#707070" stroke-width="0.7" />
<line x1="111.1" y1="210.2" x2="104.7" y2="203" stroke="#707070" stroke-width="0.7" />
<line x1="111.1" y1="210.2" x2="117.4" y2="203" stroke="#707070" stroke-width="0.7" />
<line x1="111.1" y1="224" x2="118.6" y2="224" stroke="#707070" stroke-width="0.7" />
<line x1="104.7" y1="203" x2="104.7" y2="195.5" stroke="#707070" stroke-width="0.7" />
<line x1="117.4" y1="203" x2="117.4" y2="195.5" stroke="#707070" stroke-width="0.7" />
<line x1="117.4" y1="195.5" x2="117.4" y2="187.7" stroke="#707070" stroke-width="0.7" />
<polygon points="115.7,224 121.2,221.1 121.2,226.9" fill="#e23a3a"/>
<rect x="108.85" y="221.75" width="4.5" height="4.5" fill="#2a6fdb"/>
<rect x="108.85" y="214.65" width="4.5" height="4.5" fill="#2a6fdb"/>
<circle cx="111.1" cy="210.2" r="2.2" fill="#62bb46"/>
<circle cx="104.7" cy="203" r="2.2" fill="#62bb46"/>
<circle cx="117.4" cy="203" r="2.2" fill="#62bb46"/>
<rect x="102.45" y="193.25" width="4.5" height="4.5" fill="#2a6fdb"/>
<rect x="115.15" y="193.25" width="4.5" height="4.5" fill="#2a6fdb"/>
<circle cx="117.4" cy="187.7" r="2.2" fill="#f8b12f"/>
<line x1="126.5" y1="185.5" x2="126.5" y2="230" stroke="#333" stroke-width="1.1" />
<line x1="139.4" y1="228.6" x2="139.4" y2="224" stroke="#707070" stroke-width="0.7" />
<line x1="139.4" y1="224" x2="139.4" y2="210.2" stroke="#707070" stroke-width="0.7" />
<line x1="139.4" y1="210.2" x2="133" y2="203" stroke="#707070" stroke-width="0.7" />
<line x1="139.4" y1="210.2" x2="145.7" y2="203" stroke="#707070" stroke-width="0.7" />
<line x1="139.4" y1="224" x2="146.9" y2="224" stroke="#707070" stroke-width="0.7" />
<line x1="133" y1="203" x2="133" y2="195.5" stroke="#707070" stroke-width="0.7" />
<line x1="145.7" y1="203" x2="145.7" y2="195.5" stroke="#707070" stroke-width="0.7" />
<polygon points="144,224 149.5,221.1 149.5,226.9" fill="#e23a3a"/>
<rect x="137.15" y="221.75" width="4.5" height="4.5" fill="#2a6fdb"/>
<rect x="137.15" y="214.65" width="4.5" height="4.5" fill="#2a6fdb"/>
<circle cx="139.4" cy="210.2" r="2.2" fill="#62bb46"/>
<circle cx="133" cy="203" r="2.2" fill="#62bb46"/>
<circle cx="145.7" cy="203" r="2.2" fill="#62bb46"/>
<rect x="130.75" y="193.25" width="4.5" height="4.5" fill="#2a6fdb"/>
<rect x="143.45" y="193.25" width="4.5" height="4.5" fill="#2a6fdb"/>
<line x1="160.8" y1="228.6" x2="160.8" y2="224" stroke="#707070" stroke-width="0.7" />
<line x1="160.8" y1="224" x2="160.8" y2="210.2" stroke="#707070" stroke-width="0.7" />
<line x1="160.8" y1="210.2" x2="154.4" y2="203" stroke="#707070" stroke-width="0.7" />
<line x1="160.8" y1="210.2" x2="167.1" y2="203" stroke="#707070" stroke-width="0.7" />
<line x1="160.8" y1="224" x2="168.3" y2="224" stroke="#707070" stroke-width="0.7" />
<line x1="167.1" y1="203" x2="167.1" y2="195.5" stroke="#707070" stroke-width="0.7" />
<line x1="167.1" y1="195.5" x2="167.1" y2="187.7" stroke="#707070" stroke-width="0.7" />
<polygon points="165.4,224 170.9,221.1 170.9,226.9" fill="#e23a3a"/>
<rect x="158.55" y="221.75" width="4.5" height="4.5" fill="#2a6fdb"/>
<rect x="158.55" y="214.65" width="4.5" height="4.5" fill="#2a6fdb"/>
<circle cx="160.8" cy="210.2" r="2.2" fill="#62bb46"/>
<circle cx="154.4" cy="203" r="2.2" fill="#62bb46"/>
<circle cx="167.1" cy="203" r="2.2" fill="#62bb46"/>
<rect x="164.85" y="193.25" width="4.5" height="4.5" fill="#2a6fdb"/>
<circle cx="167.1" cy="187.7" r="2.2" fill="#f8b12f"/>
<line x1="193.2" y1="228.6" x2="193.2" y2="224" stroke="#707070" stroke-width="0.7" />
<line x1="193.2" y1="224" x2="193.2" y2="210.2" stroke="#707070" stroke-width="0.7" />
<line x1="193.2" y1="210.2" x2="186.8" y2="203" stroke="#707070" stroke-width="0.7" />
<line x1="193.2" y1="210.2" x2="199.5" y2="203" stroke="#707070" stroke-width="0.7" />
<line x1="193.2" y1="224" x2="200.7" y2="224" stroke="#707070" stroke-width="0.7" />
<line x1="186.8" y1="203" x2="186.8" y2="195.5" stroke="#707070" stroke-width="0.7" />
<line x1="199.5" y1="203" x2="199.5" y2="195.5" stroke="#707070" stroke-width="0.7" />
<polygon points="197.8,224 203.3,221.1 203.3,226.9" fill="#e23a3a"/>
<rect x="190.95" y="221.75" width="4.5" height="4.5" fill="#2a6fdb"/>
<rect x="190.95" y="214.65" width="4.5" height="4.5" fill="#2a6fdb"/>
<circle cx="193.2" cy="210.2" r="2.2" fill="#62bb46"/>
<circle cx="186.8" cy="203" r="2.2" fill="#62bb46"/>
<circle cx="199.5" cy="203" r="2.2" fill="#62bb46"/>
<rect x="184.55" y="193.25" width="4.5" height="4.5" fill="#2a6fdb"/>
<rect x="197.25" y="193.25" width="4.5" height="4.5" fill="#2a6fdb"/>
<line x1="214.9" y1="228.6" x2="214.9" y2="224" stroke="#707070" stroke-width="0.7" />
<line x1="214.9" y1="224" x2="214.9" y2="210.2" stroke="#707070" stroke-width="0.7" />
<line x1="214.9" y1="210.2" x2="208.5" y2="203" stroke="#707070" stroke-width="0.7" />
<line x1="214.9" y1="210.2" x2="221.2" y2="203" stroke="#707070" stroke-width="0.7" />
<line x1="214.9" y1="224" x2="222.4" y2="224" stroke="#707070" stroke-width="0.7" />
<line x1="208.5" y1="203" x2="208.5" y2="195.5" stroke="#707070" stroke-width="0.7" />
<line x1="221.2" y1="203" x2="221.2" y2="195.5" stroke="#707070" stroke-width="0.7" />
<polygon points="219.5,224 225,221.1 225,226.9" fill="#e23a3a"/>
<rect x="212.65" y="221.75" width="4.5" height="4.5" fill="#2a6fdb"/>
<rect x="212.65" y="214.65" width="4.5" height="4.5" fill="#2a6fdb"/>
<circle cx="214.9" cy="210.2" r="2.2" fill="#62bb46"/>
<circle cx="208.5" cy="203" r="2.2" fill="#62bb46"/>
<circle cx="221.2" cy="203" r="2.2" fill="#62bb46"/>
<rect x="206.25" y="193.25" width="4.5" height="4.5" fill="#2a6fdb"/>
<rect x="218.95" y="193.25" width="4.5" height="4.5" fill="#2a6fdb"/>
<line x1="253" y1="228.6" x2="253" y2="224" stroke="#707070" stroke-width="0.7" />
<line x1="253" y1="224" x2="253" y2="210.2" stroke="#707070" stroke-width="0.7" />
<line x1="253" y1="210.2" x2="246.6" y2="203" stroke="#707070" stroke-width="0.7" />
<line x1="253" y1="210.2" x2="259.3" y2="203" stroke="#707070" stroke-width="0.7" />
<line x1="253" y1="224" x2="260.5" y2="224" stroke="#707070" stroke-width="0.7" />
<line x1="246.6" y1="203" x2="246.6" y2="195.5" stroke="#707070" stroke-width="0.7" />
<line x1="259.3" y1="203" x2="259.3" y2="195.5" stroke="#707070" stroke-width="0.7" />
<polygon points="257.6,224 263.1,221.1 263.1,226.9" fill="#e23a3a"/>
<rect x="250.75" y="221.75" width="4.5" height="4.5" fill="#2a6fdb"/>
<rect x="250.75" y="214.65" width="4.5" height="4.5" fill="#2a6fdb"/>
<circle cx="253" cy="210.2" r="2.2" fill="#62bb46"/>
<circle cx="246.6" cy="203" r="2.2" fill="#62bb46"/>
<circle cx="259.3" cy="203" r="2.2" fill="#62bb46"/>
<rect x="244.35" y="193.25" width="4.5" height="4.5" fill="#2a6fdb"/>
<rect x="257.05" y="193.25" width="4.5" height="4.5" fill="#2a6fdb"/>
<line x1="274.4" y1="228.6" x2="274.4" y2="224" stroke="#707070" stroke-width="0.7" />
<line x1="274.4" y1="224" x2="274.4" y2="210.2" stroke="#707070" stroke-width="0.7" />
<line x1="274.4" y1="210.2" x2="268" y2="203" stroke="#707070" stroke-width="0.7" />
<line x1="274.4" y1="210.2" x2="280.7" y2="203" stroke="#707070" stroke-width="0.7" />
<line x1="274.4" y1="224" x2="281.9" y2="224" stroke="#707070" stroke-width="0.7" />
<line x1="268" y1="203" x2="268" y2="195.5" stroke="#707070" stroke-width="0.7" />
<line x1="280.7" y1="203" x2="280.7" y2="195.5" stroke="#707070" stroke-width="0.7" />
<line x1="280.7" y1="195.5" x2="280.7" y2="187.7" stroke="#707070" stroke-width="0.7" />
<polygon points="279,224 284.5,221.1 284.5,226.9" fill="#e23a3a"/>
<rect x="272.15" y="221.75" width="4.5" height="4.5" fill="#2a6fdb"/>
<rect x="272.15" y="214.65" width="4.5" height="4.5" fill="#2a6fdb"/>
<circle cx="274.4" cy="210.2" r="2.2" fill="#62bb46"/>
<circle cx="268" cy="203" r="2.2" fill="#62bb46"/>
<circle cx="280.7" cy="203" r="2.2" fill="#62bb46"/>
<rect x="265.75" y="193.25" width="4.5" height="4.5" fill="#2a6fdb"/>
<rect x="278.45" y="193.25" width="4.5" height="4.5" fill="#2a6fdb"/>
<circle cx="280.7" cy="187.7" r="2.2" fill="#f8b12f"/>
<line x1="321.7" y1="228.6" x2="321.7" y2="224" stroke="#707070" stroke-width="0.7" />
<line x1="321.7" y1="224" x2="321.7" y2="210.2" stroke="#707070" stroke-width="0.7" />
<line x1="321.7" y1="210.2" x2="315.3" y2="203" stroke="#707070" stroke-width="0.7" />
<line x1="321.7" y1="210.2" x2="328" y2="203" stroke="#707070" stroke-width="0.7" />
<line x1="321.7" y1="224" x2="329.2" y2="224" stroke="#707070" stroke-width="0.7" />
<line x1="315.3" y1="203" x2="315.3" y2="195.5" stroke="#707070" stroke-width="0.7" />
<line x1="328" y1="203" x2="328" y2="195.5" stroke="#707070" stroke-width="0.7" />
<polygon points="326.3,224 331.8,221.1 331.8,226.9" fill="#e23a3a"/>
<rect x="319.45" y="221.75" width="4.5" height="4.5" fill="#2a6fdb"/>
<rect x="319.45" y="214.65" width="4.5" height="4.5" fill="#2a6fdb"/>
<circle cx="321.7" cy="210.2" r="2.2" fill="#62bb46"/>
<circle cx="315.3" cy="203" r="2.2" fill="#62bb46"/>
<circle cx="328" cy="203" r="2.2" fill="#62bb46"/>
<rect x="313.05" y="193.25" width="4.5" height="4.5" fill="#2a6fdb"/>
<rect x="325.75" y="193.25" width="4.5" height="4.5" fill="#2a6fdb"/>
<line x1="346.9" y1="228.6" x2="346.9" y2="224" stroke="#707070" stroke-width="0.7" />
<line x1="346.9" y1="224" x2="346.9" y2="210.2" stroke="#707070" stroke-width="0.7" />
<line x1="346.9" y1="210.2" x2="340.5" y2="203" stroke="#707070" stroke-width="0.7" />
<line x1="346.9" y1="210.2" x2="353.2" y2="203" stroke="#707070" stroke-width="0.7" />
<line x1="346.9" y1="224" x2="354.4" y2="224" stroke="#707070" stroke-width="0.7" />
<line x1="340.5" y1="203" x2="340.5" y2="195.5" stroke="#707070" stroke-width="0.7" />
<line x1="353.2" y1="203" x2="353.2" y2="195.5" stroke="#707070" stroke-width="0.7" />
<line x1="346.9" y1="210.2" x2="346.9" y2="204.7" stroke="#707070" stroke-width="0.7" />
<polygon points="351.5,224 357,221.1 357,226.9" fill="#e23a3a"/>
<rect x="344.65" y="221.75" width="4.5" height="4.5" fill="#2a6fdb"/>
<rect x="344.65" y="214.65" width="4.5" height="4.5" fill="#2a6fdb"/>
<circle cx="346.9" cy="210.2" r="2.2" fill="#62bb46"/>
<circle cx="340.5" cy="203" r="2.2" fill="#62bb46"/>
<circle cx="353.2" cy="203" r="2.2" fill="#62bb46"/>
<rect x="345" y="202.8" width="3.8" height="3.8" fill="#2a6fdb"/>
<rect x="338.25" y="193.25" width="4.5" height="4.5" fill="#2a6fdb"/>
<rect x="350.95" y="193.25" width="4.5" height="4.5" fill="#2a6fdb"/>
<line x1="403" y1="228.6" x2="403" y2="224" stroke="#707070" stroke-width="0.7" />
<line x1="403" y1="224" x2="403" y2="210.2" stroke="#707070" stroke-width="0.7" />
<line x1="403" y1="210.2" x2="396.6" y2="203" stroke="#707070" stroke-width="0.7" />
<line x1="403" y1="210.2" x2="409.3" y2="203" stroke="#707070" stroke-width="0.7" />
<line x1="403" y1="224" x2="410.5" y2="224" stroke="#707070" stroke-width="0.7" />
<line x1="396.6" y1="203" x2="396.6" y2="195.5" stroke="#707070" stroke-width="0.7" />
<line x1="409.3" y1="203" x2="409.3" y2="195.5" stroke="#707070" stroke-width="0.7" />
<line x1="396.6" y1="195.5" x2="396.6" y2="187.7" stroke="#707070" stroke-width="0.7" />
<line x1="409.3" y1="195.5" x2="409.3" y2="187.7" stroke="#707070" stroke-width="0.7" />
<polygon points="407.6,224 413.1,221.1 413.1,226.9" fill="#e23a3a"/>
<rect x="400.75" y="221.75" width="4.5" height="4.5" fill="#2a6fdb"/>
<rect x="400.75" y="214.65" width="4.5" height="4.5" fill="#2a6fdb"/>
<circle cx="403" cy="210.2" r="2.2" fill="#62bb46"/>
<circle cx="396.6" cy="203" r="2.2" fill="#62bb46"/>
<circle cx="409.3" cy="203" r="2.2" fill="#62bb46"/>
<rect x="394.35" y="193.25" width="4.5" height="4.5" fill="#2a6fdb"/>
<rect x="407.05" y="193.25" width="4.5" height="4.5" fill="#2a6fdb"/>
<circle cx="396.6" cy="187.7" r="2.2" fill="#f8b12f"/>
<circle cx="409.3" cy="187.7" r="2.2" fill="#f8b12f"/>
<line x1="424.4" y1="228.6" x2="424.4" y2="224" stroke="#707070" stroke-width="0.7" />
<line x1="424.4" y1="224" x2="424.4" y2="210.2" stroke="#707070" stroke-width="0.7" />
<line x1="424.4" y1="210.2" x2="418" y2="203" stroke="#707070" stroke-width="0.7" />
<line x1="424.4" y1="210.2" x2="430.7" y2="203" stroke="#707070" stroke-width="0.7" />
<line x1="424.4" y1="224" x2="431.9" y2="224" stroke="#707070" stroke-width="0.7" />
<line x1="418" y1="203" x2="418" y2="195.5" stroke="#707070" stroke-width="0.7" />
<line x1="430.7" y1="203" x2="430.7" y2="195.5" stroke="#707070" stroke-width="0.7" />
<polygon points="429,224 434.5,221.1 434.5,226.9" fill="#e23a3a"/>
<rect x="422.15" y="221.75" width="4.5" height="4.5" fill="#2a6fdb"/>
<rect x="422.15" y="214.65" width="4.5" height="4.5" fill="#2a6fdb"/>
<circle cx="424.4" cy="210.2" r="2.2" fill="#62bb46"/>
<circle cx="418" cy="203" r="2.2" fill="#62bb46"/>
<circle cx="430.7" cy="203" r="2.2" fill="#62bb46"/>
<rect x="415.75" y="193.25" width="4.5" height="4.5" fill="#2a6fdb"/>
<rect x="428.45" y="193.25" width="4.5" height="4.5" fill="#2a6fdb"/>
<text x="446.3" y="212.8" font-size="8.6" text-anchor="middle" fill="#333" >or</text>
<line x1="466.8" y1="228.6" x2="466.8" y2="224" stroke="#707070" stroke-width="0.7" />
<line x1="466.8" y1="224" x2="466.8" y2="210.2" stroke="#707070" stroke-width="0.7" />
<line x1="466.8" y1="210.2" x2="460.4" y2="203" stroke="#707070" stroke-width="0.7" />
<line x1="466.8" y1="210.2" x2="473.1" y2="203" stroke="#707070" stroke-width="0.7" />
<line x1="466.8" y1="224" x2="474.3" y2="224" stroke="#707070" stroke-width="0.7" />
<line x1="460.4" y1="203" x2="460.4" y2="195.5" stroke="#707070" stroke-width="0.7" />
<line x1="473.1" y1="203" x2="473.1" y2="195.5" stroke="#707070" stroke-width="0.7" />
<line x1="473.1" y1="195.5" x2="473.1" y2="187.7" stroke="#707070" stroke-width="0.7" />
<polygon points="471.4,224 476.9,221.1 476.9,226.9" fill="#e23a3a"/>
<rect x="464.55" y="221.75" width="4.5" height="4.5" fill="#2a6fdb"/>
<rect x="464.55" y="214.65" width="4.5" height="4.5" fill="#2a6fdb"/>
<circle cx="466.8" cy="210.2" r="2.2" fill="#62bb46"/>
<circle cx="460.4" cy="203" r="2.2" fill="#62bb46"/>
<circle cx="473.1" cy="203" r="2.2" fill="#62bb46"/>
<rect x="458.15" y="193.25" width="4.5" height="4.5" fill="#2a6fdb"/>
<rect x="470.85" y="193.25" width="4.5" height="4.5" fill="#2a6fdb"/>
<circle cx="473.1" cy="187.7" r="2.2" fill="#f8b12f"/>
<line x1="488.5" y1="228.6" x2="488.5" y2="224" stroke="#707070" stroke-width="0.7" />
<line x1="488.5" y1="224" x2="488.5" y2="210.2" stroke="#707070" stroke-width="0.7" />
<line x1="488.5" y1="210.2" x2="482.1" y2="203" stroke="#707070" stroke-width="0.7" />
<line x1="488.5" y1="210.2" x2="494.8" y2="203" stroke="#707070" stroke-width="0.7" />
<line x1="488.5" y1="224" x2="496" y2="224" stroke="#707070" stroke-width="0.7" />
<line x1="482.1" y1="203" x2="482.1" y2="195.5" stroke="#707070" stroke-width="0.7" />
<line x1="494.8" y1="203" x2="494.8" y2="195.5" stroke="#707070" stroke-width="0.7" />
<line x1="494.8" y1="195.5" x2="494.8" y2="187.7" stroke="#707070" stroke-width="0.7" />
<polygon points="493.1,224 498.6,221.1 498.6,226.9" fill="#e23a3a"/>
<rect x="486.25" y="221.75" width="4.5" height="4.5" fill="#2a6fdb"/>
<rect x="486.25" y="214.65" width="4.5" height="4.5" fill="#2a6fdb"/>
<circle cx="488.5" cy="210.2" r="2.2" fill="#62bb46"/>
<circle cx="482.1" cy="203" r="2.2" fill="#62bb46"/>
<circle cx="494.8" cy="203" r="2.2" fill="#62bb46"/>
<rect x="479.85" y="193.25" width="4.5" height="4.5" fill="#2a6fdb"/>
<rect x="492.55" y="193.25" width="4.5" height="4.5" fill="#2a6fdb"/>
<circle cx="494.8" cy="187.7" r="2.2" fill="#f8b12f"/>
<line x1="528.9" y1="228.6" x2="528.9" y2="224" stroke="#707070" stroke-width="0.7" />
<line x1="528.9" y1="224" x2="528.9" y2="210.2" stroke="#707070" stroke-width="0.7" />
<line x1="528.9" y1="210.2" x2="522.5" y2="203" stroke="#707070" stroke-width="0.7" />
<line x1="528.9" y1="210.2" x2="535.2" y2="203" stroke="#707070" stroke-width="0.7" />
<line x1="528.9" y1="224" x2="536.4" y2="224" stroke="#707070" stroke-width="0.7" />
<line x1="522.5" y1="203" x2="522.5" y2="195.5" stroke="#707070" stroke-width="0.7" />
<line x1="535.2" y1="203" x2="535.2" y2="195.5" stroke="#707070" stroke-width="0.7" />
<line x1="535.2" y1="195.5" x2="535.2" y2="187.7" stroke="#707070" stroke-width="0.7" />
<polygon points="533.5,224 539,221.1 539,226.9" fill="#e23a3a"/>
<rect x="526.65" y="221.75" width="4.5" height="4.5" fill="#2a6fdb"/>
<rect x="526.65" y="214.65" width="4.5" height="4.5" fill="#2a6fdb"/>
<circle cx="528.9" cy="210.2" r="2.2" fill="#62bb46"/>
<circle cx="522.5" cy="203" r="2.2" fill="#62bb46"/>
<circle cx="535.2" cy="203" r="2.2" fill="#62bb46"/>
<rect x="520.25" y="193.25" width="4.5" height="4.5" fill="#2a6fdb"/>
<rect x="532.95" y="193.25" width="4.5" height="4.5" fill="#2a6fdb"/>
<circle cx="535.2" cy="187.7" r="2.2" fill="#f8b12f"/>
<line x1="550.5" y1="228.6" x2="550.5" y2="224" stroke="#707070" stroke-width="0.7" />
<line x1="550.5" y1="224" x2="550.5" y2="210.2" stroke="#707070" stroke-width="0.7" />
<line x1="550.5" y1="210.2" x2="544.1" y2="203" stroke="#707070" stroke-width="0.7" />
<line x1="550.5" y1="210.2" x2="556.8" y2="203" stroke="#707070" stroke-width="0.7" />
<line x1="550.5" y1="224" x2="558" y2="224" stroke="#707070" stroke-width="0.7" />
<line x1="544.1" y1="203" x2="544.1" y2="195.5" stroke="#707070" stroke-width="0.7" />
<line x1="556.8" y1="203" x2="556.8" y2="195.5" stroke="#707070" stroke-width="0.7" />
<line x1="550.5" y1="210.2" x2="550.5" y2="204.7" stroke="#707070" stroke-width="0.7" />
<polygon points="555.1,224 560.6,221.1 560.6,226.9" fill="#e23a3a"/>
<rect x="548.25" y="221.75" width="4.5" height="4.5" fill="#2a6fdb"/>
<rect x="548.25" y="214.65" width="4.5" height="4.5" fill="#2a6fdb"/>
<circle cx="550.5" cy="210.2" r="2.2" fill="#62bb46"/>
<circle cx="544.1" cy="203" r="2.2" fill="#62bb46"/>
<circle cx="556.8" cy="203" r="2.2" fill="#62bb46"/>
<rect x="548.6" y="202.8" width="3.8" height="3.8" fill="#2a6fdb"/>
<rect x="541.85" y="193.25" width="4.5" height="4.5" fill="#2a6fdb"/>
<rect x="554.55" y="193.25" width="4.5" height="4.5" fill="#2a6fdb"/>
<line x1="568.6" y1="188" x2="568.6" y2="229.7" stroke="#333" stroke-width="1.1" />
<line x1="584.7" y1="228.6" x2="584.7" y2="224" stroke="#707070" stroke-width="0.7" />
<line x1="584.7" y1="224" x2="584.7" y2="210.2" stroke="#707070" stroke-width="0.7" />
<line x1="584.7" y1="210.2" x2="578.3" y2="203" stroke="#707070" stroke-width="0.7" />
<line x1="584.7" y1="210.2" x2="591" y2="203" stroke="#707070" stroke-width="0.7" />
<line x1="584.7" y1="224" x2="592.2" y2="224" stroke="#707070" stroke-width="0.7" />
<line x1="578.3" y1="203" x2="578.3" y2="195.5" stroke="#707070" stroke-width="0.7" />
<line x1="591" y1="203" x2="591" y2="195.5" stroke="#707070" stroke-width="0.7" />
<polygon points="589.3,224 594.8,221.1 594.8,226.9" fill="#e23a3a"/>
<rect x="582.45" y="221.75" width="4.5" height="4.5" fill="#2a6fdb"/>
<rect x="582.45" y="214.65" width="4.5" height="4.5" fill="#2a6fdb"/>
<circle cx="584.7" cy="210.2" r="2.2" fill="#62bb46"/>
<circle cx="578.3" cy="203" r="2.2" fill="#62bb46"/>
<circle cx="591" cy="203" r="2.2" fill="#62bb46"/>
<rect x="576.05" y="193.25" width="4.5" height="4.5" fill="#2a6fdb"/>
<rect x="588.75" y="193.25" width="4.5" height="4.5" fill="#2a6fdb"/>
<line x1="610.1" y1="228.6" x2="610.1" y2="224" stroke="#707070" stroke-width="0.7" />
<line x1="610.1" y1="224" x2="610.1" y2="210.2" stroke="#707070" stroke-width="0.7" />
<line x1="610.1" y1="210.2" x2="603.7" y2="203" stroke="#707070" stroke-width="0.7" />
<line x1="610.1" y1="210.2" x2="616.4" y2="203" stroke="#707070" stroke-width="0.7" />
<line x1="610.1" y1="224" x2="617.6" y2="224" stroke="#707070" stroke-width="0.7" />
<line x1="603.7" y1="203" x2="603.7" y2="195.5" stroke="#707070" stroke-width="0.7" />
<line x1="616.4" y1="203" x2="616.4" y2="195.5" stroke="#707070" stroke-width="0.7" />
<line x1="603.7" y1="195.5" x2="603.7" y2="187.7" stroke="#707070" stroke-width="0.7" />
<line x1="610.1" y1="210.2" x2="610.1" y2="204.7" stroke="#707070" stroke-width="0.7" />
<polygon points="614.7,224 620.2,221.1 620.2,226.9" fill="#e23a3a"/>
<rect x="607.85" y="221.75" width="4.5" height="4.5" fill="#2a6fdb"/>
<rect x="607.85" y="214.65" width="4.5" height="4.5" fill="#2a6fdb"/>
<circle cx="610.1" cy="210.2" r="2.2" fill="#62bb46"/>
<circle cx="603.7" cy="203" r="2.2" fill="#62bb46"/>
<circle cx="616.4" cy="203" r="2.2" fill="#62bb46"/>
<rect x="608.2" y="202.8" width="3.8" height="3.8" fill="#2a6fdb"/>
<rect x="601.45" y="193.25" width="4.5" height="4.5" fill="#2a6fdb"/>
<rect x="614.15" y="193.25" width="4.5" height="4.5" fill="#2a6fdb"/>
<circle cx="603.7" cy="187.7" r="2.2" fill="#f8b12f"/>
<line x1="648.2" y1="229.4" x2="648.2" y2="224.8" stroke="#707070" stroke-width="0.7" />
<line x1="648.2" y1="224.8" x2="648.2" y2="211" stroke="#707070" stroke-width="0.7" />
<line x1="648.2" y1="211" x2="641.8" y2="203.8" stroke="#707070" stroke-width="0.7" />
<line x1="648.2" y1="211" x2="654.5" y2="203.8" stroke="#707070" stroke-width="0.7" />
<line x1="648.2" y1="224.8" x2="655.7" y2="224.8" stroke="#707070" stroke-width="0.7" />
<line x1="641.8" y1="203.8" x2="641.8" y2="196.3" stroke="#707070" stroke-width="0.7" />
<line x1="654.5" y1="203.8" x2="654.5" y2="196.3" stroke="#707070" stroke-width="0.7" />
<line x1="654.5" y1="196.3" x2="654.5" y2="188.5" stroke="#707070" stroke-width="0.7" />
<polygon points="652.8,224.8 658.3,221.9 658.3,227.7" fill="#e23a3a"/>
<rect x="645.95" y="222.55" width="4.5" height="4.5" fill="#2a6fdb"/>
<rect x="645.95" y="215.45" width="4.5" height="4.5" fill="#2a6fdb"/>
<circle cx="648.2" cy="211" r="2.2" fill="#62bb46"/>
<circle cx="641.8" cy="203.8" r="2.2" fill="#62bb46"/>
<circle cx="654.5" cy="203.8" r="2.2" fill="#62bb46"/>
<rect x="639.55" y="194.05" width="4.5" height="4.5" fill="#2a6fdb"/>
<rect x="652.25" y="194.05" width="4.5" height="4.5" fill="#2a6fdb"/>
<circle cx="654.5" cy="188.5" r="2.2" fill="#f8b12f"/>
<line x1="669.9" y1="229.4" x2="669.9" y2="224.8" stroke="#707070" stroke-width="0.7" />
<line x1="669.9" y1="224.8" x2="669.9" y2="211" stroke="#707070" stroke-width="0.7" />
<line x1="669.9" y1="211" x2="663.5" y2="203.8" stroke="#707070" stroke-width="0.7" />
<line x1="669.9" y1="211" x2="676.2" y2="203.8" stroke="#707070" stroke-width="0.7" />
<line x1="669.9" y1="224.8" x2="677.4" y2="224.8" stroke="#707070" stroke-width="0.7" />
<line x1="663.5" y1="203.8" x2="663.5" y2="196.3" stroke="#707070" stroke-width="0.7" />
<line x1="676.2" y1="203.8" x2="676.2" y2="196.3" stroke="#707070" stroke-width="0.7" />
<line x1="663.5" y1="196.3" x2="663.5" y2="188.5" stroke="#707070" stroke-width="0.7" />
<line x1="676.2" y1="196.3" x2="676.2" y2="188.5" stroke="#707070" stroke-width="0.7" />
<polygon points="674.5,224.8 680,221.9 680,227.7" fill="#e23a3a"/>
<rect x="667.65" y="222.55" width="4.5" height="4.5" fill="#2a6fdb"/>
<rect x="667.65" y="215.45" width="4.5" height="4.5" fill="#2a6fdb"/>
<circle cx="669.9" cy="211" r="2.2" fill="#62bb46"/>
<circle cx="663.5" cy="203.8" r="2.2" fill="#62bb46"/>
<circle cx="676.2" cy="203.8" r="2.2" fill="#62bb46"/>
<rect x="661.25" y="194.05" width="4.5" height="4.5" fill="#2a6fdb"/>
<rect x="673.95" y="194.05" width="4.5" height="4.5" fill="#2a6fdb"/>
<circle cx="663.5" cy="188.5" r="2.2" fill="#f8b12f"/>
<circle cx="676.2" cy="188.5" r="2.2" fill="#f8b12f"/>
<text x="-0.3" y="241.3" font-size="8.15" font-weight="bold" text-anchor="start" fill="#30b9f5" >1.&#160; G0F/G0F-GlcNAc</text>
<text x="87.5" y="241.3" font-size="8.25" font-weight="bold" text-anchor="start" fill="#30b9f5" >2. G0F/G1F-GlcNAc</text>
<text x="180.9" y="241.3" font-size="8.1" font-weight="bold" text-anchor="start" fill="#9d82d8" >3. G0F/G0F</text>
<text x="240.8" y="241.3" font-size="8.25" font-weight="bold" text-anchor="start" fill="#30b9f5" >4. G0F/G1F</text>
<text x="293.9" y="241.3" font-size="8.25" font-weight="bold" text-anchor="start" fill="#30b9f5" >5. G0F/G0F + bGlcNAc</text>
<text x="391.5" y="241.3" font-size="8.1" font-weight="bold" text-anchor="start" fill="#f9a048" >6. G2F/G0F</text>
<text x="461.6" y="241.3" font-size="8.1" font-weight="bold" text-anchor="start" fill="#f9a048" >G1F/G1F</text>
<text x="524.8" y="241.3" font-size="8.27" font-weight="bold" text-anchor="start" fill="#30b9f5" >7. G0F/G1F + bGlcNAc</text>
<text x="633.7" y="241.3" font-size="8.1" font-weight="bold" text-anchor="start" fill="#30b9f5" >10. G1F/G2F</text>
<line x1="36.5" y1="281" x2="36.5" y2="382" stroke="#000" stroke-width="1.0" />
<line x1="36" y1="381.5" x2="186.5" y2="381.5" stroke="#000" stroke-width="1.0" />
<line x1="32.2" y1="381.5" x2="36.5" y2="381.5" stroke="#000" stroke-width="1.0" />
<text x="31.7" y="384.3" font-size="7.8" text-anchor="end" fill="#000" >0</text>
<line x1="32.2" y1="356.5" x2="36.5" y2="356.5" stroke="#000" stroke-width="1.0" />
<text x="31.7" y="359.3" font-size="7.8" text-anchor="end" fill="#000" >10</text>
<line x1="32.2" y1="331.5" x2="36.5" y2="331.5" stroke="#000" stroke-width="1.0" />
<text x="31.7" y="334.3" font-size="7.8" text-anchor="end" fill="#000" >20</text>
<line x1="32.2" y1="306.5" x2="36.5" y2="306.5" stroke="#000" stroke-width="1.0" />
<text x="31.7" y="309.3" font-size="7.8" text-anchor="end" fill="#000" >30</text>
<line x1="32.2" y1="281.5" x2="36.5" y2="281.5" stroke="#000" stroke-width="1.0" />
<text x="31.7" y="284.3" font-size="7.8" text-anchor="end" fill="#000" >40</text>
<text transform="translate(17.9,331.7) rotate(-90)" font-size="8.25" font-weight="bold" text-anchor="middle" fill="#1a1a1a">Relative Percentage(%)</text>
<rect x="39.1" y="318" width="4.8" height="63.5" fill="#808080"/>
<line x1="41.5" y1="308.75" x2="41.5" y2="325.5" stroke="#111" stroke-width="0.75" />
<line x1="40.3" y1="308.75" x2="42.7" y2="308.75" stroke="#111" stroke-width="0.75" />
<line x1="40.3" y1="325.5" x2="42.7" y2="325.5" stroke="#111" stroke-width="0.75" />
<circle cx="41.5" cy="308.75" r="1.2" fill="#111"/>
<circle cx="40.9" cy="322" r="1.2" fill="#111"/>
<circle cx="41.9" cy="325.5" r="1.2" fill="#111"/>
<rect x="46.1" y="308" width="4.8" height="73.5" fill="#f50a6a"/>
<line x1="48.5" y1="297.25" x2="48.5" y2="318.75" stroke="#111" stroke-width="0.75" />
<line x1="47.3" y1="297.25" x2="49.7" y2="297.25" stroke="#111" stroke-width="0.75" />
<line x1="47.3" y1="318.75" x2="49.7" y2="318.75" stroke="#111" stroke-width="0.75" />
<circle cx="47.6" cy="301" r="1.2" fill="#111"/>
<circle cx="49.5" cy="302.25" r="1.2" fill="#111"/>
<circle cx="48.5" cy="319.75" r="1.2" fill="#111"/>
<polyline points="41.5,302.7 41.5,285.6 48.5,285.6 48.5,290.8" fill="none" stroke="#000" stroke-width="1"/>
<text x="45" y="281" font-size="8.7" text-anchor="middle" fill="#111" >nd</text>
<line x1="44.5" y1="381.5" x2="44.5" y2="385.5" stroke="#000" stroke-width="1.0" />
<rect x="58.12" y="305" width="4.8" height="76.5" fill="#808080"/>
<line x1="60.52" y1="299.5" x2="60.52" y2="313.5" stroke="#111" stroke-width="0.75" />
<line x1="59.32" y1="299.5" x2="61.72" y2="299.5" stroke="#111" stroke-width="0.75" />
<line x1="59.32" y1="313.5" x2="61.72" y2="313.5" stroke="#111" stroke-width="0.75" />
<circle cx="60.32" cy="299.5" r="1.2" fill="#111"/>
<circle cx="60.52" cy="303" r="1.2" fill="#111"/>
<circle cx="60.52" cy="313.5" r="1.2" fill="#111"/>
<rect x="65.12" y="307" width="4.8" height="74.5" fill="#f50a6a"/>
<line x1="67.52" y1="304.5" x2="67.52" y2="309.5" stroke="#111" stroke-width="0.75" />
<line x1="66.32" y1="304.5" x2="68.72" y2="304.5" stroke="#111" stroke-width="0.75" />
<line x1="66.32" y1="309.5" x2="68.72" y2="309.5" stroke="#111" stroke-width="0.75" />
<circle cx="66.92" cy="305" r="1.2" fill="#111"/>
<circle cx="68.42" cy="305.5" r="1.2" fill="#111"/>
<circle cx="67.52" cy="310.5" r="1.2" fill="#111"/>
<polyline points="60.52,292 60.52,285.6 67.52,285.6 67.52,298.2" fill="none" stroke="#000" stroke-width="1"/>
<text x="64.02" y="281" font-size="8.7" text-anchor="middle" fill="#111" >nd</text>
<line x1="63.5" y1="381.5" x2="63.5" y2="385.5" stroke="#000" stroke-width="1.0" />
<rect x="77.14" y="328" width="4.8" height="53.5" fill="#808080"/>
<line x1="79.54" y1="322.25" x2="79.54" y2="333.75" stroke="#111" stroke-width="0.75" />
<line x1="78.34" y1="322.25" x2="80.74" y2="322.25" stroke="#111" stroke-width="0.75" />
<line x1="78.34" y1="333.75" x2="80.74" y2="333.75" stroke="#111" stroke-width="0.75" />
<circle cx="78.54" cy="325" r="1.2" fill="#111"/>
<circle cx="80.54" cy="325" r="1.2" fill="#111"/>
<circle cx="79.54" cy="335" r="1.2" fill="#111"/>
<rect x="84.14" y="333.25" width="4.8" height="48.25" fill="#f50a6a"/>
<line x1="86.54" y1="330.25" x2="86.54" y2="336.25" stroke="#111" stroke-width="0.75" />
<line x1="85.34" y1="330.25" x2="87.74" y2="330.25" stroke="#111" stroke-width="0.75" />
<line x1="85.34" y1="336.25" x2="87.74" y2="336.25" stroke="#111" stroke-width="0.75" />
<circle cx="86.04" cy="333.5" r="1.2" fill="#111"/>
<circle cx="87.14" cy="334" r="1.2" fill="#111"/>
<circle cx="86.54" cy="337" r="1.2" fill="#111"/>
<polyline points="79.54,316.5 79.54,285.6 86.54,285.6 86.54,324.3" fill="none" stroke="#000" stroke-width="1"/>
<text x="83.04" y="281" font-size="8.7" text-anchor="middle" fill="#111" >nd</text>
<line x1="82.5" y1="381.5" x2="82.5" y2="385.5" stroke="#000" stroke-width="1.0" />
<rect x="96.16" y="361.25" width="4.8" height="20.25" fill="#808080"/>
<line x1="98.56" y1="359.5" x2="98.56" y2="362.5" stroke="#111" stroke-width="0.75" />
<line x1="97.36" y1="359.5" x2="99.76" y2="359.5" stroke="#111" stroke-width="0.75" />
<line x1="97.36" y1="362.5" x2="99.76" y2="362.5" stroke="#111" stroke-width="0.75" />
<circle cx="97.56" cy="360.5" r="1.2" fill="#111"/>
<circle cx="98.56" cy="359.5" r="1.2" fill="#111"/>
<circle cx="99.56" cy="360.5" r="1.2" fill="#111"/>
<rect x="103.16" y="376" width="4.8" height="5.5" fill="#f50a6a"/>
<line x1="105.56" y1="365" x2="105.56" y2="381.5" stroke="#111" stroke-width="0.75" />
<line x1="104.36" y1="365" x2="106.76" y2="365" stroke="#111" stroke-width="0.75" />
<circle cx="105.56" cy="365" r="1.2" fill="#111"/>
<circle cx="104.76" cy="381.25" r="1.2" fill="#111"/>
<circle cx="106.36" cy="381.25" r="1.2" fill="#111"/>
<polyline points="98.56,353.7 98.56,285.6 105.56,285.6 105.56,358.7" fill="none" stroke="#000" stroke-width="1"/>
<text x="102.06" y="281" font-size="8.7" text-anchor="middle" fill="#111" >nd</text>
<line x1="101.5" y1="381.5" x2="101.5" y2="385.5" stroke="#000" stroke-width="1.0" />
<rect x="115.18" y="362.75" width="4.8" height="18.75" fill="#808080"/>
<line x1="117.58" y1="359.5" x2="117.58" y2="366" stroke="#111" stroke-width="0.75" />
<line x1="116.38" y1="359.5" x2="118.78" y2="359.5" stroke="#111" stroke-width="0.75" />
<line x1="116.38" y1="366" x2="118.78" y2="366" stroke="#111" stroke-width="0.75" />
<circle cx="117.58" cy="359.5" r="1.2" fill="#111"/>
<circle cx="116.88" cy="363" r="1.2" fill="#111"/>
<circle cx="118.38" cy="363" r="1.2" fill="#111"/>
<rect x="122.18" y="380.8" width="4.8" height="0.7" fill="#f50a6a"/>
<circle cx="123.48" cy="380.62" r="1.2" fill="#111"/>
<circle cx="124.78" cy="380.62" r="1.2" fill="#111"/>
<circle cx="125.78" cy="380.62" r="1.2" fill="#111"/>
<polyline points="117.58,353.2 117.58,285.6 124.58,285.6 124.58,376" fill="none" stroke="#000" stroke-width="1"/>
<line x1="121.08" y1="276.4" x2="121.08" y2="281.2" stroke="#111" stroke-width="1.5" transform="rotate(0 121.08 278.8)"/>
<line x1="121.08" y1="276.4" x2="121.08" y2="281.2" stroke="#111" stroke-width="1.5" transform="rotate(60 121.08 278.8)"/>
<line x1="121.08" y1="276.4" x2="121.08" y2="281.2" stroke="#111" stroke-width="1.5" transform="rotate(120 121.08 278.8)"/>
<line x1="120.5" y1="381.5" x2="120.5" y2="385.5" stroke="#000" stroke-width="1.0" />
<rect x="134.2" y="370" width="4.8" height="11.5" fill="#808080"/>
<line x1="136.6" y1="359.25" x2="136.6" y2="380.75" stroke="#111" stroke-width="0.75" />
<line x1="135.4" y1="359.25" x2="137.8" y2="359.25" stroke="#111" stroke-width="0.75" />
<circle cx="136" cy="363" r="1.2" fill="#111"/>
<circle cx="137.5" cy="364" r="1.2" fill="#111"/>
<circle cx="136.6" cy="381" r="1.2" fill="#111"/>
<rect x="141.2" y="380.8" width="4.8" height="0.7" fill="#f50a6a"/>
<circle cx="142.5" cy="380.62" r="1.2" fill="#111"/>
<circle cx="143.8" cy="380.62" r="1.2" fill="#111"/>
<circle cx="144.8" cy="380.62" r="1.2" fill="#111"/>
<polyline points="136.6,353.2 136.6,285.6 143.6,285.6 143.6,375.4" fill="none" stroke="#000" stroke-width="1"/>
<text x="140.1" y="281" font-size="8.7" text-anchor="middle" fill="#111" >nd</text>
<line x1="139.5" y1="381.5" x2="139.5" y2="385.5" stroke="#000" stroke-width="1.0" />
<rect x="153.22" y="377" width="4.8" height="4.5" fill="#808080"/>
<line x1="155.62" y1="367" x2="155.62" y2="381.5" stroke="#111" stroke-width="0.75" />
<line x1="154.42" y1="367" x2="156.82" y2="367" stroke="#111" stroke-width="0.75" />
<circle cx="155.62" cy="367" r="1.2" fill="#111"/>
<circle cx="154.92" cy="381.25" r="1.2" fill="#111"/>
<circle cx="156.32" cy="381.25" r="1.2" fill="#111"/>
<rect x="160.22" y="363.5" width="4.8" height="18" fill="#f50a6a"/>
<line x1="162.62" y1="360.5" x2="162.62" y2="366.5" stroke="#111" stroke-width="0.75" />
<line x1="161.42" y1="360.5" x2="163.82" y2="360.5" stroke="#111" stroke-width="0.75" />
<line x1="161.42" y1="366.5" x2="163.82" y2="366.5" stroke="#111" stroke-width="0.75" />
<circle cx="162.62" cy="360.5" r="1.2" fill="#111"/>
<circle cx="162.02" cy="363.5" r="1.2" fill="#111"/>
<circle cx="163.42" cy="363.5" r="1.2" fill="#111"/>
<polyline points="155.62,361 155.62,285.6 162.62,285.6 162.62,354.2" fill="none" stroke="#000" stroke-width="1"/>
<text x="159.12" y="281" font-size="8.7" text-anchor="middle" fill="#111" >nd</text>
<line x1="158.5" y1="381.5" x2="158.5" y2="385.5" stroke="#000" stroke-width="1.0" />
<rect x="172.24" y="380.8" width="4.8" height="0.7" fill="#808080"/>
<circle cx="173.54" cy="380.62" r="1.2" fill="#111"/>
<circle cx="174.84" cy="380.62" r="1.2" fill="#111"/>
<circle cx="175.84" cy="380.62" r="1.2" fill="#111"/>
<rect x="179.24" y="351.75" width="4.8" height="29.75" fill="#f50a6a"/>
<line x1="181.64" y1="351" x2="181.64" y2="352.5" stroke="#111" stroke-width="0.75" />
<line x1="180.44" y1="351" x2="182.84" y2="351" stroke="#111" stroke-width="0.75" />
<line x1="180.44" y1="352.5" x2="182.84" y2="352.5" stroke="#111" stroke-width="0.75" />
<circle cx="181.04" cy="351" r="1.2" fill="#111"/>
<circle cx="182.44" cy="351.5" r="1.2" fill="#111"/>
<circle cx="181.64" cy="352" r="1.2" fill="#111"/>
<polyline points="174.64,375.2 174.64,285.6 181.64,285.6 181.64,344.3" fill="none" stroke="#000" stroke-width="1"/>
<line x1="178.14" y1="276.4" x2="178.14" y2="281.2" stroke="#111" stroke-width="1.5" transform="rotate(0 178.14 278.8)"/>
<line x1="178.14" y1="276.4" x2="178.14" y2="281.2" stroke="#111" stroke-width="1.5" transform="rotate(60 178.14 278.8)"/>
<line x1="178.14" y1="276.4" x2="178.14" y2="281.2" stroke="#111" stroke-width="1.5" transform="rotate(120 178.14 278.8)"/>
<line x1="177.5" y1="381.5" x2="177.5" y2="385.5" stroke="#000" stroke-width="1.0" />
<text transform="translate(47.5,392.7) rotate(-45)" font-size="7.6" font-weight="bold" text-anchor="end" fill="#1a1a1a">G0F/G0F</text>
<text transform="translate(66.52,392.7) rotate(-45)" font-size="7.6" font-weight="bold" text-anchor="end" fill="#1a1a1a">G0F/G1F</text>
<text transform="translate(85.54,392.7) rotate(-45)" font-size="7.6" font-weight="bold" text-anchor="end" fill="#1a1a1a">G1F/G1F or G0F/G2F</text>
<text transform="translate(104.56,392.7) rotate(-45)" font-size="7.6" font-weight="bold" text-anchor="end" fill="#1a1a1a">G1F/G2F</text>
<text transform="translate(123.58,392.7) rotate(-45)" font-size="7.6" font-weight="bold" text-anchor="end" fill="#1a1a1a">G0F/G0F+bGlcNAc</text>
<text transform="translate(142.6,392.7) rotate(-45)" font-size="7.6" font-weight="bold" text-anchor="end" fill="#1a1a1a">G0F/G1F+bGlcNAc</text>
<text transform="translate(161.62,392.7) rotate(-45)" font-size="7.6" font-weight="bold" text-anchor="end" fill="#1a1a1a">G0F/G1F-GlcNAc</text>
<text transform="translate(180.64,392.7) rotate(-45)" font-size="7.6" font-weight="bold" text-anchor="end" fill="#1a1a1a">G0F/G0F-GlcNAc</text>
<rect x="189.1" y="295.4" width="9" height="5.8" fill="#808080"/>
<rect x="189.1" y="311.5" width="9" height="5.8" fill="#f50a6a"/>
<text x="202.8" y="300.9" font-size="7.6" text-anchor="start" fill="#222" >pre-WIgGWAM</text>
<text x="202.8" y="317" font-size="7.6" text-anchor="start" fill="#222" >post-WIgGWAM</text>
<line x1="314.5" y1="285.82" x2="314.5" y2="390.5" stroke="#111" stroke-width="1.0" />
<line x1="310.3" y1="390" x2="383.4" y2="390" stroke="#111" stroke-width="1.1" />
<line x1="310.3" y1="390" x2="314.5" y2="390" stroke="#111" stroke-width="1.0" />
<text x="309" y="392.7" font-size="7.5" font-weight="bold" text-anchor="end" fill="#1a1a1a" >0</text>
<line x1="310.3" y1="355.44" x2="314.5" y2="355.44" stroke="#111" stroke-width="1.0" />
<text x="309" y="358.14" font-size="7.5" font-weight="bold" text-anchor="end" fill="#1a1a1a" >20</text>
<line x1="310.3" y1="320.88" x2="314.5" y2="320.88" stroke="#111" stroke-width="1.0" />
<text x="309" y="323.58" font-size="7.5" font-weight="bold" text-anchor="end" fill="#1a1a1a" >40</text>
<line x1="310.3" y1="286.32" x2="314.5" y2="286.32" stroke="#111" stroke-width="1.0" />
<text x="309" y="289.02" font-size="7.5" font-weight="bold" text-anchor="end" fill="#1a1a1a" >60</text>
<text transform="translate(295.8,335.4) rotate(-90)" font-size="8.9" font-weight="bold" text-anchor="middle" fill="#1a1a1a">Relative Percentage (%)</text>
<text x="340.3" y="272.1" font-size="8.27" font-weight="bold" text-anchor="middle" fill="#1a1a1a" >Rituximab Fc (Expi293F cells)</text>
<rect x="321.3" y="339.2" width="14" height="50.8" fill="#a98bd9"/>
<line x1="328.3" y1="331.25" x2="328.3" y2="346.45" stroke="#111" stroke-width="0.8" />
<line x1="325" y1="331.25" x2="331.6" y2="331.25" stroke="#111" stroke-width="0.8" />
<line x1="325" y1="346.45" x2="331.6" y2="346.45" stroke="#111" stroke-width="0.8" />
<circle cx="324.6" cy="334.19" r="1.55" fill="#111"/>
<circle cx="331.4" cy="335.4" r="1.55" fill="#111"/>
<circle cx="328.3" cy="347.66" r="1.55" fill="#111"/>
<line x1="328.3" y1="390" x2="328.3" y2="394" stroke="#111" stroke-width="1.0" />
<rect x="342.1" y="301.35" width="14" height="88.65" fill="#1ec0f8"/>
<line x1="349.1" y1="295.48" x2="349.1" y2="307.06" stroke="#111" stroke-width="0.8" />
<line x1="345.8" y1="295.48" x2="352.4" y2="295.48" stroke="#111" stroke-width="0.8" />
<line x1="345.8" y1="307.06" x2="352.4" y2="307.06" stroke="#111" stroke-width="0.8" />
<circle cx="349.1" cy="294.44" r="1.55" fill="#111"/>
<circle cx="345.6" cy="305.5" r="1.55" fill="#111"/>
<circle cx="351.9" cy="304.12" r="1.55" fill="#111"/>
<line x1="349.1" y1="390" x2="349.1" y2="394" stroke="#111" stroke-width="1.0" />
<rect x="362.9" y="357" width="14" height="33" fill="#ffa03c"/>
<line x1="369.9" y1="354.4" x2="369.9" y2="358.9" stroke="#111" stroke-width="0.8" />
<line x1="366.6" y1="354.4" x2="373.2" y2="354.4" stroke="#111" stroke-width="0.8" />
<line x1="366.6" y1="358.9" x2="373.2" y2="358.9" stroke="#111" stroke-width="0.8" />
<circle cx="366.6" cy="354.4" r="1.55" fill="#111"/>
<circle cx="372.4" cy="355.96" r="1.55" fill="#111"/>
<circle cx="366.9" cy="358.55" r="1.55" fill="#111"/>
<line x1="369.9" y1="390" x2="369.9" y2="394" stroke="#111" stroke-width="1.0" />
<text transform="translate(329.9,402.8) rotate(-45)" font-size="8" font-weight="bold" text-anchor="end" fill="#1a1a1a">Symmetric</text>
<text transform="translate(350.4,402.8) rotate(-45)" font-size="8" font-weight="bold" text-anchor="end" fill="#1a1a1a">Asymmetric</text>
<text transform="translate(371,402.8) rotate(-45)" font-size="8" font-weight="bold" text-anchor="end" fill="#1a1a1a">Ambiguous</text>
<rect x="473.6" y="266.7" width="171.2" height="170.8" fill="none" stroke="#222" stroke-width="1"/>
<line x1="545.5" y1="266.7" x2="545.5" y2="437.5" stroke="#222" stroke-width="1" />
<line x1="595.7" y1="266.7" x2="595.7" y2="437.5" stroke="#222" stroke-width="1" />
<line x1="473.6" y1="304.3" x2="644.8" y2="304.3" stroke="#222" stroke-width="1" />
<line x1="473.6" y1="317.62" x2="644.8" y2="317.62" stroke="#333" stroke-width="1" />
<line x1="473.6" y1="330.94" x2="644.8" y2="330.94" stroke="#333" stroke-width="1" />
<line x1="473.6" y1="344.26" x2="644.8" y2="344.26" stroke="#333" stroke-width="1" />
<line x1="473.6" y1="357.58" x2="644.8" y2="357.58" stroke="#333" stroke-width="1" />
<line x1="473.6" y1="370.9" x2="644.8" y2="370.9" stroke="#333" stroke-width="1" />
<line x1="473.6" y1="384.22" x2="644.8" y2="384.22" stroke="#333" stroke-width="1" />
<line x1="473.6" y1="397.54" x2="644.8" y2="397.54" stroke="#333" stroke-width="1" />
<line x1="473.6" y1="410.86" x2="644.8" y2="410.86" stroke="#333" stroke-width="1" />
<line x1="473.6" y1="424.18" x2="644.8" y2="424.18" stroke="#333" stroke-width="1" />
<text x="550.5" y="276.1" font-size="7.1" font-weight="bold" text-anchor="start" fill="#1a1a1a" >Glycan</text>
<text x="550.5" y="284.6" font-size="7.1" font-weight="bold" text-anchor="start" fill="#1a1a1a" >Release (%)</text>
<text x="599.9" y="276.1" font-size="7.1" font-weight="bold" text-anchor="start" fill="#1a1a1a" >WIgGWAM</text>
<text x="599.9" y="284.6" font-size="7.1" font-weight="bold" text-anchor="start" fill="#1a1a1a" >(Mock</text>
<text x="599.9" y="293.2" font-size="7.1" font-weight="bold" text-anchor="start" fill="#1a1a1a" >release) (%)</text>
<text x="478.3" y="313.9" font-size="7.1" font-weight="bold" text-anchor="start" fill="#1a1a1a" >G0F</text>
<text x="570.6" y="313.7" font-size="7.1" text-anchor="middle" fill="#222" >51.44</text>
<text x="620.25" y="316.1" font-size="7.1" text-anchor="middle" fill="#222" >50.29-63.65</text>
<text x="478.3" y="327.22" font-size="7.1" font-weight="bold" text-anchor="start" fill="#1a1a1a" >G1F</text>
<text x="570.6" y="327.02" font-size="7.1" text-anchor="middle" fill="#222" >35.93</text>
<text x="620.25" y="329.42" font-size="7.1" text-anchor="middle" fill="#222" >15.98-39</text>
<text x="478.3" y="340.54" font-size="7.1" font-weight="bold" text-anchor="start" fill="#1a1a1a" >G2F</text>
<text x="570.6" y="340.34" font-size="7.1" text-anchor="middle" fill="#222" >5.21</text>
<text x="620.25" y="342.74" font-size="7.1" text-anchor="middle" fill="#222" >1.11-10.77</text>
<text x="478.3" y="353.86" font-size="7.1" font-weight="bold" text-anchor="start" fill="#1a1a1a" >G0F+bGlcNAc</text>
<text x="570.6" y="353.66" font-size="7.1" text-anchor="middle" fill="#222" >1.08</text>
<text x="620.25" y="356.06" font-size="7.1" text-anchor="middle" fill="#222" >0</text>
<text x="478.3" y="367.18" font-size="7.1" font-weight="bold" text-anchor="start" fill="#1a1a1a" >G1F+bGlcNAc</text>
<text x="570.6" y="366.98" font-size="7.1" text-anchor="middle" fill="#222" >1.15</text>
<text x="620.25" y="366.98" font-size="7.1" text-anchor="middle" fill="#222" >0</text>
<text x="478.3" y="380.5" font-size="7.1" font-weight="bold" text-anchor="start" fill="#1a1a1a" >G0F-GlcNAc</text>
<text x="570.6" y="380.3" font-size="7.1" text-anchor="middle" fill="#222" >2.71</text>
<text x="620.25" y="380.3" font-size="7.1" text-anchor="middle" fill="#222" >5.91-9.61</text>
<text x="478.3" y="393.82" font-size="7.1" font-weight="bold" text-anchor="start" fill="#1a1a1a" >G1F-GlcNAc</text>
<text x="570.6" y="393.62" font-size="7.1" text-anchor="middle" fill="#222" >0</text>
<text x="620.25" y="393.62" font-size="7.1" text-anchor="middle" fill="#222" >0-3.70</text>
<text x="478.3" y="407.14" font-size="7.1" font-weight="bold" text-anchor="start" fill="#1a1a1a" >Man5</text>
<text x="570.6" y="406.94" font-size="7.1" text-anchor="middle" fill="#222" >2.48</text>
<text x="620.25" y="406.94" font-size="7.1" text-anchor="middle" fill="#222" >0</text>
<text x="478.3" y="420.46" font-size="7.1" font-weight="bold" text-anchor="start" fill="#1a1a1a" >Fucosylation</text>
<text x="570.6" y="420.26" font-size="7.1" text-anchor="middle" fill="#222" >97.52</text>
<text x="620.25" y="420.26" font-size="7.1" text-anchor="middle" fill="#222" >96.69</text>
<text x="478.3" y="433.78" font-size="7.1" font-weight="bold" text-anchor="start" fill="#1a1a1a" >Afucosylation</text>
<text x="570.6" y="433.58" font-size="7.1" text-anchor="middle" fill="#222" >2.48</text>
<text x="620.25" y="433.58" font-size="7.1" text-anchor="middle" fill="#222" >3.31</text>
</svg>
</body></html>
